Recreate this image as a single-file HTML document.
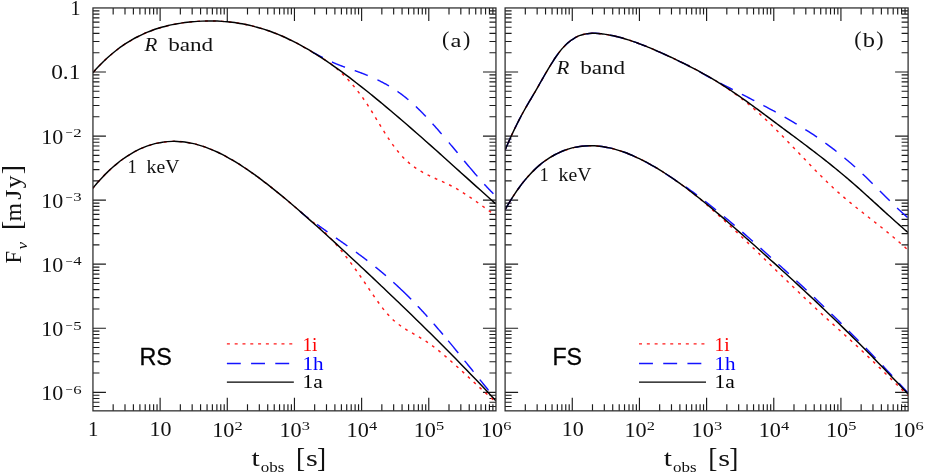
<!DOCTYPE html>
<html><head><meta charset="utf-8"><title>Light curves</title>
<style>html,body{margin:0;padding:0;background:#fff;}body{width:926px;height:475px;overflow:hidden;font-family:"Liberation Serif",serif;}svg{display:block;opacity:0.999;}</style>
</head><body>
<svg width="926" height="475" viewBox="0 0 926 475">
<rect width="926" height="475" fill="#fff"/>
<path d="M113.17,410.85L113.17,404.35M113.17,7.95L113.17,14.45M125,410.85L125,404.35M125,7.95L125,14.45M133.39,410.85L133.39,404.35M133.39,7.95L133.39,14.45M139.9,410.85L139.9,404.35M139.9,7.95L139.9,14.45M145.22,410.85L145.22,404.35M145.22,7.95L145.22,14.45M149.71,410.85L149.71,404.35M149.71,7.95L149.71,14.45M153.61,410.85L153.61,404.35M153.61,7.95L153.61,14.45M157.04,410.85L157.04,404.35M157.04,7.95L157.04,14.45M160.12,410.85L160.12,397.85M160.12,7.95L160.12,20.95M180.34,410.85L180.34,404.35M180.34,7.95L180.34,14.45M192.16,410.85L192.16,404.35M192.16,7.95L192.16,14.45M200.56,410.85L200.56,404.35M200.56,7.95L200.56,14.45M207.06,410.85L207.06,404.35M207.06,7.95L207.06,14.45M212.38,410.85L212.38,404.35M212.38,7.95L212.38,14.45M216.88,410.85L216.88,404.35M216.88,7.95L216.88,14.45M220.77,410.85L220.77,404.35M220.77,7.95L220.77,14.45M224.21,410.85L224.21,404.35M224.21,7.95L224.21,14.45M227.28,410.85L227.28,397.85M227.28,7.95L227.28,20.95M247.5,410.85L247.5,404.35M247.5,7.95L247.5,14.45M259.33,410.85L259.33,404.35M259.33,7.95L259.33,14.45M267.72,410.85L267.72,404.35M267.72,7.95L267.72,14.45M274.23,410.85L274.23,404.35M274.23,7.95L274.23,14.45M279.55,410.85L279.55,404.35M279.55,7.95L279.55,14.45M284.05,410.85L284.05,404.35M284.05,7.95L284.05,14.45M287.94,410.85L287.94,404.35M287.94,7.95L287.94,14.45M291.38,410.85L291.38,404.35M291.38,7.95L291.38,14.45M294.45,410.85L294.45,397.85M294.45,7.95L294.45,20.95M314.67,410.85L314.67,404.35M314.67,7.95L314.67,14.45M326.5,410.85L326.5,404.35M326.5,7.95L326.5,14.45M334.89,410.85L334.89,404.35M334.89,7.95L334.89,14.45M341.4,410.85L341.4,404.35M341.4,7.95L341.4,14.45M346.72,410.85L346.72,404.35M346.72,7.95L346.72,14.45M351.21,410.85L351.21,404.35M351.21,7.95L351.21,14.45M355.11,410.85L355.11,404.35M355.11,7.95L355.11,14.45M358.54,410.85L358.54,404.35M358.54,7.95L358.54,14.45M361.62,410.85L361.62,397.85M361.62,7.95L361.62,20.95M381.84,410.85L381.84,404.35M381.84,7.95L381.84,14.45M393.66,410.85L393.66,404.35M393.66,7.95L393.66,14.45M402.06,410.85L402.06,404.35M402.06,7.95L402.06,14.45M408.56,410.85L408.56,404.35M408.56,7.95L408.56,14.45M413.88,410.85L413.88,404.35M413.88,7.95L413.88,14.45M418.38,410.85L418.38,404.35M418.38,7.95L418.38,14.45M422.27,410.85L422.27,404.35M422.27,7.95L422.27,14.45M425.71,410.85L425.71,404.35M425.71,7.95L425.71,14.45M428.78,410.85L428.78,397.85M428.78,7.95L428.78,20.95M449,410.85L449,404.35M449,7.95L449,14.45M460.83,410.85L460.83,404.35M460.83,7.95L460.83,14.45M469.22,410.85L469.22,404.35M469.22,7.95L469.22,14.45M475.73,410.85L475.73,404.35M475.73,7.95L475.73,14.45M481.05,410.85L481.05,404.35M481.05,7.95L481.05,14.45M485.55,410.85L485.55,404.35M485.55,7.95L485.55,14.45M489.44,410.85L489.44,404.35M489.44,7.95L489.44,14.45M492.88,410.85L492.88,404.35M492.88,7.95L492.88,14.45M92.95,10.88L99.45,10.88M495.95,10.88L489.45,10.88M92.95,14.16L99.45,14.16M495.95,14.16L489.45,14.16M92.95,17.87L99.45,17.87M495.95,17.87L489.45,17.87M92.95,22.16L99.45,22.16M495.95,22.16L489.45,22.16M92.95,27.23L99.45,27.23M495.95,27.23L489.45,27.23M92.95,33.44L99.45,33.44M495.95,33.44L489.45,33.44M92.95,41.45L99.45,41.45M495.95,41.45L489.45,41.45M92.95,52.73L99.45,52.73M495.95,52.73L489.45,52.73M92.95,72.01L105.95,72.01M495.95,72.01L482.95,72.01M92.95,74.94L99.45,74.94M495.95,74.94L489.45,74.94M92.95,78.22L99.45,78.22M495.95,78.22L489.45,78.22M92.95,81.93L99.45,81.93M495.95,81.93L489.45,81.93M92.95,86.22L99.45,86.22M495.95,86.22L489.45,86.22M92.95,91.29L99.45,91.29M495.95,91.29L489.45,91.29M92.95,97.5L99.45,97.5M495.95,97.5L489.45,97.5M92.95,105.51L99.45,105.51M495.95,105.51L489.45,105.51M92.95,116.79L99.45,116.79M495.95,116.79L489.45,116.79M92.95,136.07L105.95,136.07M495.95,136.07L482.95,136.07M92.95,139L99.45,139M495.95,139L489.45,139M92.95,142.28L99.45,142.28M495.95,142.28L489.45,142.28M92.95,145.99L99.45,145.99M495.95,145.99L489.45,145.99M92.95,150.28L99.45,150.28M495.95,150.28L489.45,150.28M92.95,155.35L99.45,155.35M495.95,155.35L489.45,155.35M92.95,161.56L99.45,161.56M495.95,161.56L489.45,161.56M92.95,169.57L99.45,169.57M495.95,169.57L489.45,169.57M92.95,180.85L99.45,180.85M495.95,180.85L489.45,180.85M92.95,200.13L105.95,200.13M495.95,200.13L482.95,200.13M92.95,203.06L99.45,203.06M495.95,203.06L489.45,203.06M92.95,206.34L99.45,206.34M495.95,206.34L489.45,206.34M92.95,210.05L99.45,210.05M495.95,210.05L489.45,210.05M92.95,214.34L99.45,214.34M495.95,214.34L489.45,214.34M92.95,219.41L99.45,219.41M495.95,219.41L489.45,219.41M92.95,225.62L99.45,225.62M495.95,225.62L489.45,225.62M92.95,233.63L99.45,233.63M495.95,233.63L489.45,233.63M92.95,244.91L99.45,244.91M495.95,244.91L489.45,244.91M92.95,264.19L105.95,264.19M495.95,264.19L482.95,264.19M92.95,267.12L99.45,267.12M495.95,267.12L489.45,267.12M92.95,270.4L99.45,270.4M495.95,270.4L489.45,270.4M92.95,274.11L99.45,274.11M495.95,274.11L489.45,274.11M92.95,278.4L99.45,278.4M495.95,278.4L489.45,278.4M92.95,283.47L99.45,283.47M495.95,283.47L489.45,283.47M92.95,289.68L99.45,289.68M495.95,289.68L489.45,289.68M92.95,297.69L99.45,297.69M495.95,297.69L489.45,297.69M92.95,308.97L99.45,308.97M495.95,308.97L489.45,308.97M92.95,328.25L105.95,328.25M495.95,328.25L482.95,328.25M92.95,331.18L99.45,331.18M495.95,331.18L489.45,331.18M92.95,334.46L99.45,334.46M495.95,334.46L489.45,334.46M92.95,338.17L99.45,338.17M495.95,338.17L489.45,338.17M92.95,342.46L99.45,342.46M495.95,342.46L489.45,342.46M92.95,347.53L99.45,347.53M495.95,347.53L489.45,347.53M92.95,353.74L99.45,353.74M495.95,353.74L489.45,353.74M92.95,361.75L99.45,361.75M495.95,361.75L489.45,361.75M92.95,373.03L99.45,373.03M495.95,373.03L489.45,373.03M92.95,392.31L105.95,392.31M495.95,392.31L482.95,392.31M92.95,395.24L99.45,395.24M495.95,395.24L489.45,395.24M92.95,398.52L99.45,398.52M495.95,398.52L489.45,398.52M92.95,402.23L99.45,402.23M495.95,402.23L489.45,402.23M92.95,406.52L99.45,406.52M495.95,406.52L489.45,406.52" stroke="#1c1c1c" stroke-width="1.15" fill="none"/>
<path d="M525.32,410.85L525.32,404.35M525.32,7.95L525.32,14.45M537.15,410.85L537.15,404.35M537.15,7.95L537.15,14.45M545.54,410.85L545.54,404.35M545.54,7.95L545.54,14.45M552.05,410.85L552.05,404.35M552.05,7.95L552.05,14.45M557.37,410.85L557.37,404.35M557.37,7.95L557.37,14.45M561.86,410.85L561.86,404.35M561.86,7.95L561.86,14.45M565.76,410.85L565.76,404.35M565.76,7.95L565.76,14.45M569.19,410.85L569.19,404.35M569.19,7.95L569.19,14.45M572.27,410.85L572.27,397.85M572.27,7.95L572.27,20.95M592.49,410.85L592.49,404.35M592.49,7.95L592.49,14.45M604.31,410.85L604.31,404.35M604.31,7.95L604.31,14.45M612.71,410.85L612.71,404.35M612.71,7.95L612.71,14.45M619.21,410.85L619.21,404.35M619.21,7.95L619.21,14.45M624.53,410.85L624.53,404.35M624.53,7.95L624.53,14.45M629.03,410.85L629.03,404.35M629.03,7.95L629.03,14.45M632.92,410.85L632.92,404.35M632.92,7.95L632.92,14.45M636.36,410.85L636.36,404.35M636.36,7.95L636.36,14.45M639.43,410.85L639.43,397.85M639.43,7.95L639.43,20.95M659.65,410.85L659.65,404.35M659.65,7.95L659.65,14.45M671.48,410.85L671.48,404.35M671.48,7.95L671.48,14.45M679.87,410.85L679.87,404.35M679.87,7.95L679.87,14.45M686.38,410.85L686.38,404.35M686.38,7.95L686.38,14.45M691.7,410.85L691.7,404.35M691.7,7.95L691.7,14.45M696.2,410.85L696.2,404.35M696.2,7.95L696.2,14.45M700.09,410.85L700.09,404.35M700.09,7.95L700.09,14.45M703.53,410.85L703.53,404.35M703.53,7.95L703.53,14.45M706.6,410.85L706.6,397.85M706.6,7.95L706.6,20.95M726.82,410.85L726.82,404.35M726.82,7.95L726.82,14.45M738.65,410.85L738.65,404.35M738.65,7.95L738.65,14.45M747.04,410.85L747.04,404.35M747.04,7.95L747.04,14.45M753.55,410.85L753.55,404.35M753.55,7.95L753.55,14.45M758.87,410.85L758.87,404.35M758.87,7.95L758.87,14.45M763.36,410.85L763.36,404.35M763.36,7.95L763.36,14.45M767.26,410.85L767.26,404.35M767.26,7.95L767.26,14.45M770.69,410.85L770.69,404.35M770.69,7.95L770.69,14.45M773.77,410.85L773.77,397.85M773.77,7.95L773.77,20.95M793.99,410.85L793.99,404.35M793.99,7.95L793.99,14.45M805.81,410.85L805.81,404.35M805.81,7.95L805.81,14.45M814.21,410.85L814.21,404.35M814.21,7.95L814.21,14.45M820.71,410.85L820.71,404.35M820.71,7.95L820.71,14.45M826.03,410.85L826.03,404.35M826.03,7.95L826.03,14.45M830.53,410.85L830.53,404.35M830.53,7.95L830.53,14.45M834.42,410.85L834.42,404.35M834.42,7.95L834.42,14.45M837.86,410.85L837.86,404.35M837.86,7.95L837.86,14.45M840.93,410.85L840.93,397.85M840.93,7.95L840.93,20.95M861.15,410.85L861.15,404.35M861.15,7.95L861.15,14.45M872.98,410.85L872.98,404.35M872.98,7.95L872.98,14.45M881.37,410.85L881.37,404.35M881.37,7.95L881.37,14.45M887.88,410.85L887.88,404.35M887.88,7.95L887.88,14.45M893.2,410.85L893.2,404.35M893.2,7.95L893.2,14.45M897.7,410.85L897.7,404.35M897.7,7.95L897.7,14.45M901.59,410.85L901.59,404.35M901.59,7.95L901.59,14.45M905.03,410.85L905.03,404.35M905.03,7.95L905.03,14.45M505.1,10.88L511.6,10.88M908.1,10.88L901.6,10.88M505.1,14.16L511.6,14.16M908.1,14.16L901.6,14.16M505.1,17.87L511.6,17.87M908.1,17.87L901.6,17.87M505.1,22.16L511.6,22.16M908.1,22.16L901.6,22.16M505.1,27.23L511.6,27.23M908.1,27.23L901.6,27.23M505.1,33.44L511.6,33.44M908.1,33.44L901.6,33.44M505.1,41.45L511.6,41.45M908.1,41.45L901.6,41.45M505.1,52.73L511.6,52.73M908.1,52.73L901.6,52.73M505.1,72.01L518.1,72.01M908.1,72.01L895.1,72.01M505.1,74.94L511.6,74.94M908.1,74.94L901.6,74.94M505.1,78.22L511.6,78.22M908.1,78.22L901.6,78.22M505.1,81.93L511.6,81.93M908.1,81.93L901.6,81.93M505.1,86.22L511.6,86.22M908.1,86.22L901.6,86.22M505.1,91.29L511.6,91.29M908.1,91.29L901.6,91.29M505.1,97.5L511.6,97.5M908.1,97.5L901.6,97.5M505.1,105.51L511.6,105.51M908.1,105.51L901.6,105.51M505.1,116.79L511.6,116.79M908.1,116.79L901.6,116.79M505.1,136.07L518.1,136.07M908.1,136.07L895.1,136.07M505.1,139L511.6,139M908.1,139L901.6,139M505.1,142.28L511.6,142.28M908.1,142.28L901.6,142.28M505.1,145.99L511.6,145.99M908.1,145.99L901.6,145.99M505.1,150.28L511.6,150.28M908.1,150.28L901.6,150.28M505.1,155.35L511.6,155.35M908.1,155.35L901.6,155.35M505.1,161.56L511.6,161.56M908.1,161.56L901.6,161.56M505.1,169.57L511.6,169.57M908.1,169.57L901.6,169.57M505.1,180.85L511.6,180.85M908.1,180.85L901.6,180.85M505.1,200.13L518.1,200.13M908.1,200.13L895.1,200.13M505.1,203.06L511.6,203.06M908.1,203.06L901.6,203.06M505.1,206.34L511.6,206.34M908.1,206.34L901.6,206.34M505.1,210.05L511.6,210.05M908.1,210.05L901.6,210.05M505.1,214.34L511.6,214.34M908.1,214.34L901.6,214.34M505.1,219.41L511.6,219.41M908.1,219.41L901.6,219.41M505.1,225.62L511.6,225.62M908.1,225.62L901.6,225.62M505.1,233.63L511.6,233.63M908.1,233.63L901.6,233.63M505.1,244.91L511.6,244.91M908.1,244.91L901.6,244.91M505.1,264.19L518.1,264.19M908.1,264.19L895.1,264.19M505.1,267.12L511.6,267.12M908.1,267.12L901.6,267.12M505.1,270.4L511.6,270.4M908.1,270.4L901.6,270.4M505.1,274.11L511.6,274.11M908.1,274.11L901.6,274.11M505.1,278.4L511.6,278.4M908.1,278.4L901.6,278.4M505.1,283.47L511.6,283.47M908.1,283.47L901.6,283.47M505.1,289.68L511.6,289.68M908.1,289.68L901.6,289.68M505.1,297.69L511.6,297.69M908.1,297.69L901.6,297.69M505.1,308.97L511.6,308.97M908.1,308.97L901.6,308.97M505.1,328.25L518.1,328.25M908.1,328.25L895.1,328.25M505.1,331.18L511.6,331.18M908.1,331.18L901.6,331.18M505.1,334.46L511.6,334.46M908.1,334.46L901.6,334.46M505.1,338.17L511.6,338.17M908.1,338.17L901.6,338.17M505.1,342.46L511.6,342.46M908.1,342.46L901.6,342.46M505.1,347.53L511.6,347.53M908.1,347.53L901.6,347.53M505.1,353.74L511.6,353.74M908.1,353.74L901.6,353.74M505.1,361.75L511.6,361.75M908.1,361.75L901.6,361.75M505.1,373.03L511.6,373.03M908.1,373.03L901.6,373.03M505.1,392.31L518.1,392.31M908.1,392.31L895.1,392.31M505.1,395.24L511.6,395.24M908.1,395.24L901.6,395.24M505.1,398.52L511.6,398.52M908.1,398.52L901.6,398.52M505.1,402.23L511.6,402.23M908.1,402.23L901.6,402.23M505.1,406.52L511.6,406.52M908.1,406.52L901.6,406.52" stroke="#1c1c1c" stroke-width="1.15" fill="none"/>
<g clip-path="url(#cp)">
<defs><clipPath id="cp"><rect x="92.95" y="7.95" width="403" height="402.9"/><rect x="505.1" y="7.95" width="403" height="402.9"/></clipPath></defs>
<path d="M92.8,72.79 C93.63,71.87 96.12,69.04 97.78,67.28 C99.43,65.51 101.09,63.82 102.75,62.19 C104.41,60.56 106.07,59.01 107.73,57.51 C109.38,56.01 111.04,54.58 112.7,53.21 C114.36,51.84 116.02,50.53 117.68,49.27 C119.33,48.02 120.99,46.83 122.65,45.68 C124.31,44.54 125.97,43.45 127.63,42.41 C129.29,41.38 130.94,40.39 132.6,39.45 C134.26,38.51 135.92,37.62 137.58,36.77 C139.24,35.92 140.89,35.12 142.55,34.35 C144.21,33.59 145.87,32.87 147.53,32.19 C149.19,31.5 150.85,30.86 152.5,30.26 C154.16,29.65 155.82,29.08 157.48,28.55 C159.14,28.01 160.8,27.51 162.45,27.05 C164.11,26.58 165.77,26.15 167.43,25.75 C169.09,25.34 170.75,24.97 172.4,24.63 C174.06,24.28 175.72,23.97 177.38,23.68 C179.04,23.39 180.7,23.13 182.36,22.89 C184.01,22.66 185.67,22.44 187.33,22.25 C188.99,22.06 190.65,21.89 192.31,21.74 C193.96,21.59 195.62,21.47 197.28,21.36 C198.94,21.25 200.6,21.16 202.26,21.1 C203.92,21.03 205.57,20.99 207.23,20.97 C208.89,20.94 210.55,20.94 212.21,20.96 C213.87,20.98 215.52,21.03 217.18,21.09 C218.84,21.16 220.5,21.25 222.16,21.36 C223.82,21.47 225.47,21.6 227.13,21.76 C228.79,21.92 230.45,22.1 232.11,22.3 C233.77,22.5 235.43,22.73 237.08,22.98 C238.74,23.24 240.4,23.51 242.06,23.81 C243.72,24.12 245.38,24.44 247.03,24.79 C248.69,25.14 250.35,25.52 252.01,25.92 C253.67,26.32 255.33,26.75 256.99,27.2 C258.64,27.65 260.3,28.13 261.96,28.64 C263.62,29.14 265.28,29.67 266.94,30.23 C268.59,30.79 270.25,31.38 271.91,31.99 C273.57,32.6 275.23,33.24 276.89,33.91 C278.54,34.57 280.2,35.27 281.86,35.99 C283.52,36.71 285.18,37.46 286.84,38.23 C288.5,39.01 290.15,39.81 291.81,40.63 C293.47,41.46 295.13,42.31 296.79,43.18 C298.45,44.05 300.1,44.95 301.76,45.87 C303.42,46.79 305.08,47.73 306.74,48.69 C308.4,49.66 310.06,50.64 311.71,51.65 C313.37,52.65 315.03,53.69 316.69,54.72 C318.35,55.76 320.01,56.84 321.66,57.85 C323.32,58.87 324.98,59.76 326.64,60.83 C328.3,61.9 329.96,63.02 331.61,64.29 C333.27,65.56 334.93,66.99 336.59,68.45 C338.25,69.92 339.91,71.47 341.57,73.07 C343.22,74.68 344.88,76.35 346.54,78.09 C348.2,79.84 349.86,81.65 351.52,83.56 C353.17,85.47 354.83,87.45 356.49,89.53 C358.15,91.61 359.81,93.77 361.47,96.04 C363.13,98.32 364.78,100.69 366.44,103.16 C368.1,105.64 369.76,108.26 371.42,110.9 C373.08,113.54 374.73,116.3 376.39,119.02 C378.05,121.74 379.71,124.52 381.37,127.21 C383.03,129.91 384.68,132.6 386.34,135.17 C388,137.74 389.66,140.25 391.32,142.62 C392.98,144.99 394.64,147.27 396.29,149.39 C397.95,151.5 399.61,153.49 401.27,155.32 C402.93,157.16 404.59,158.83 406.24,160.39 C407.9,161.96 409.56,163.37 411.22,164.7 C412.88,166.02 414.54,167.22 416.2,168.35 C417.85,169.48 419.51,170.5 421.17,171.48 C422.83,172.45 424.49,173.34 426.15,174.19 C427.8,175.05 429.46,175.84 431.12,176.61 C432.78,177.39 434.44,178.12 436.1,178.86 C437.75,179.6 439.41,180.31 441.07,181.05 C442.73,181.79 444.39,182.52 446.05,183.3 C447.71,184.08 449.36,184.88 451.02,185.73 C452.68,186.59 454.34,187.49 456,188.43 C457.66,189.37 459.31,190.36 460.97,191.38 C462.63,192.4 464.29,193.46 465.95,194.55 C467.61,195.63 469.27,196.75 470.92,197.88 C472.58,199.02 474.24,200.18 475.9,201.35 C477.56,202.52 479.22,203.72 480.87,204.91 C482.53,206.11 484.19,207.32 485.85,208.52 C487.51,209.73 489.17,210.94 490.82,212.14 C492.48,213.34 494.97,215.13 495.8,215.73" fill="none" stroke="#ff1a1a" stroke-width="1.45" stroke-dasharray="2.8 5.1" stroke-dashoffset="-1.3"/>
<path d="M92.8,188.2 C93.63,187.22 96.12,184.22 97.78,182.33 C99.43,180.45 101.09,178.64 102.75,176.9 C104.41,175.15 106.07,173.48 107.73,171.88 C109.38,170.27 111.04,168.74 112.7,167.27 C114.36,165.81 116.02,164.41 117.68,163.07 C119.33,161.74 120.99,160.47 122.65,159.27 C124.31,158.06 125.97,156.93 127.63,155.85 C129.29,154.78 130.94,153.77 132.6,152.82 C134.26,151.87 135.92,150.99 137.58,150.16 C139.24,149.33 140.89,148.57 142.55,147.87 C144.21,147.16 145.87,146.52 147.53,145.93 C149.19,145.34 150.85,144.82 152.5,144.35 C154.16,143.87 155.82,143.46 157.48,143.1 C159.14,142.75 160.8,142.44 162.45,142.2 C164.11,141.95 165.77,141.76 167.43,141.62 C169.09,141.48 170.75,141.39 172.4,141.36 C174.06,141.32 175.72,141.34 177.38,141.41 C179.04,141.48 180.7,141.6 182.36,141.77 C184.01,141.94 185.67,142.16 187.33,142.42 C188.99,142.69 190.65,143 192.31,143.36 C193.96,143.72 195.62,144.13 197.28,144.59 C198.94,145.04 200.6,145.54 202.26,146.08 C203.92,146.62 205.57,147.2 207.23,147.82 C208.89,148.44 210.55,149.11 212.21,149.81 C213.87,150.51 215.52,151.25 217.18,152.02 C218.84,152.8 220.5,153.61 222.16,154.46 C223.82,155.3 225.47,156.18 227.13,157.09 C228.79,158 230.45,158.94 232.11,159.91 C233.77,160.88 235.43,161.88 237.08,162.91 C238.74,163.94 240.4,164.99 242.06,166.07 C243.72,167.15 245.38,168.26 247.03,169.39 C248.69,170.52 250.35,171.67 252.01,172.84 C253.67,174.01 255.33,175.2 256.99,176.42 C258.64,177.63 260.3,178.86 261.96,180.11 C263.62,181.36 265.28,182.63 266.94,183.92 C268.59,185.2 270.25,186.5 271.91,187.82 C273.57,189.14 275.23,190.47 276.89,191.82 C278.54,193.16 280.2,194.52 281.86,195.9 C283.52,197.27 285.18,198.65 286.84,200.05 C288.5,201.44 290.15,202.85 291.81,204.27 C293.47,205.68 295.13,207.11 296.79,208.54 C298.45,209.98 300.1,211.43 301.76,212.87 C303.42,214.31 305.08,215.77 306.74,217.17 C308.4,218.56 310.06,219.91 311.71,221.24 C313.37,222.58 315.03,223.79 316.69,225.17 C318.35,226.56 320.01,228.03 321.66,229.55 C323.32,231.07 324.98,232.65 326.64,234.3 C328.3,235.95 329.96,237.68 331.61,239.48 C333.27,241.27 334.93,243.14 336.59,245.06 C338.25,246.98 339.91,248.97 341.57,251.01 C343.22,253.05 344.88,255.15 346.54,257.3 C348.2,259.44 349.86,261.64 351.52,263.89 C353.17,266.13 354.83,268.42 356.49,270.75 C358.15,273.07 359.81,275.44 361.47,277.84 C363.13,280.24 364.78,282.69 366.44,285.13 C368.1,287.57 369.76,290.05 371.42,292.47 C373.08,294.89 374.73,297.31 376.39,299.64 C378.05,301.97 379.71,304.28 381.37,306.45 C383.03,308.62 384.68,310.72 386.34,312.66 C388,314.6 389.66,316.42 391.32,318.08 C392.98,319.73 394.64,321.2 396.29,322.57 C397.95,323.95 399.61,325.16 401.27,326.33 C402.93,327.49 404.59,328.53 406.24,329.56 C407.9,330.58 409.56,331.52 411.22,332.48 C412.88,333.45 414.54,334.37 416.2,335.33 C417.85,336.29 419.51,337.25 421.17,338.26 C422.83,339.27 424.49,340.31 426.15,341.41 C427.8,342.52 429.46,343.68 431.12,344.88 C432.78,346.09 434.44,347.35 436.1,348.64 C437.75,349.94 439.41,351.28 441.07,352.65 C442.73,354.02 444.39,355.43 446.05,356.86 C447.71,358.28 449.36,359.74 451.02,361.21 C452.68,362.68 454.34,364.17 456,365.67 C457.66,367.17 459.31,368.69 460.97,370.21 C462.63,371.73 464.29,373.27 465.95,374.8 C467.61,376.34 469.27,377.88 470.92,379.42 C472.58,380.95 474.24,382.5 475.9,384.03 C477.56,385.56 479.22,387.09 480.87,388.61 C482.53,390.13 484.19,391.64 485.85,393.14 C487.51,394.64 489.17,396.12 490.82,397.59 C492.48,399.05 494.97,401.2 495.8,401.93" fill="none" stroke="#ff1a1a" stroke-width="1.45" stroke-dasharray="2.8 5.1" stroke-dashoffset="0"/>
<path d="M505,150.19 C505.5,149.03 507,145.51 508.01,143.23 C509.01,140.96 510.01,138.72 511.01,136.54 C512.02,134.35 513.02,132.21 514.02,130.11 C515.02,128.01 516.03,125.96 517.03,123.96 C518.03,121.95 519.03,120 520.04,118.08 C521.04,116.17 522.04,114.31 523.04,112.48 C524.05,110.65 525.05,108.87 526.05,107.12 C527.05,105.37 528.06,103.66 529.06,101.96 C530.06,100.25 531.06,98.58 532.07,96.88 C533.07,95.18 534.07,93.48 535.07,91.76 C536.08,90.03 537.08,88.28 538.08,86.53 C539.08,84.78 540.09,83.01 541.09,81.25 C542.09,79.5 543.09,77.73 544.1,76 C545.1,74.26 546.1,72.53 547.1,70.83 C548.11,69.13 549.11,67.45 550.11,65.82 C551.11,64.18 552.12,62.57 553.12,61.02 C554.12,59.47 555.12,57.96 556.13,56.52 C557.13,55.08 558.13,53.68 559.13,52.37 C560.14,51.06 561.14,49.81 562.14,48.64 C563.14,47.48 564.15,46.4 565.15,45.39 C566.15,44.38 567.15,43.46 568.16,42.6 C569.16,41.74 570.16,40.96 571.16,40.24 C572.17,39.52 573.17,38.87 574.17,38.28 C575.17,37.69 576.18,37.16 577.18,36.69 C578.18,36.21 579.18,35.8 580.19,35.44 C581.19,35.07 582.19,34.77 583.19,34.5 C584.2,34.24 585.2,34.02 586.2,33.85 C587.2,33.67 588.21,33.54 589.21,33.44 C590.21,33.34 591.21,33.29 592.22,33.26 C593.22,33.23 594.22,33.24 595.22,33.26 C596.23,33.29 597.23,33.36 598.23,33.43 C599.23,33.51 600.24,33.62 601.24,33.74 C602.24,33.85 603.24,33.99 604.25,34.14 C605.25,34.28 606.25,34.45 607.25,34.62 C608.26,34.79 609.26,34.98 610.26,35.17 C611.26,35.37 612.27,35.58 613.27,35.8 C614.27,36.02 615.27,36.25 616.28,36.49 C617.28,36.73 618.28,36.99 619.28,37.25 C620.29,37.51 621.29,37.79 622.29,38.07 C623.29,38.35 624.3,38.64 625.3,38.94 C626.3,39.25 627.3,39.56 628.31,39.88 C629.31,40.2 630.31,40.52 631.31,40.86 C632.32,41.2 633.32,41.54 634.32,41.89 C635.32,42.24 636.33,42.6 637.33,42.97 C638.33,43.34 639.33,43.71 640.34,44.09 C641.34,44.47 642.34,44.86 643.34,45.25 C644.35,45.65 645.35,46.05 646.35,46.45 C647.35,46.86 648.36,47.27 649.36,47.68 C650.36,48.1 651.36,48.52 652.37,48.94 C653.37,49.37 654.37,49.8 655.37,50.23 C656.38,50.67 657.38,51.11 658.38,51.55 C659.38,51.99 660.39,52.43 661.39,52.88 C662.39,53.33 663.39,53.78 664.4,54.24 C665.4,54.69 666.4,55.15 667.4,55.61 C668.41,56.07 669.41,56.53 670.41,56.99 C671.41,57.46 672.42,57.93 673.42,58.4 C674.42,58.87 675.42,59.35 676.43,59.83 C677.43,60.31 678.43,60.79 679.43,61.28 C680.44,61.76 681.44,62.26 682.44,62.75 C683.44,63.24 684.45,63.74 685.45,64.24 C686.45,64.75 687.45,65.25 688.46,65.76 C689.46,66.28 690.46,66.79 691.46,67.31 C692.47,67.83 693.47,68.35 694.47,68.88 C695.47,69.41 696.48,69.94 697.48,70.48 C698.48,71.02 699.48,71.56 700.49,72.11 C701.49,72.66 702.49,73.21 703.49,73.77 C704.5,74.33 705.5,74.89 706.5,75.46 C707.5,76.03 708.5,76.61 709.51,77.19 C710.51,77.77 711.51,78.35 712.51,78.95 C713.52,79.54 714.52,80.14 715.52,80.75 C716.52,81.37 717.53,81.99 718.53,82.62 C719.53,83.25 720.53,83.89 721.54,84.54 C722.54,85.19 723.54,85.85 724.54,86.52 C725.55,87.19 726.55,87.88 727.55,88.57 C728.55,89.25 729.56,89.94 730.56,90.63 C731.56,91.33 732.56,92.03 733.57,92.75 C734.57,93.46 735.57,94.19 736.57,94.92 C737.58,95.66 738.58,96.41 739.58,97.17 C740.58,97.92 741.59,98.69 742.59,99.48 C743.59,100.26 744.59,101.05 745.6,101.86 C746.6,102.67 747.6,103.48 748.6,104.31 C749.61,105.14 750.61,105.98 751.61,106.83 C752.61,107.69 753.62,108.55 754.62,109.42 C755.62,110.29 756.62,111.18 757.63,112.07 C758.63,112.97 759.63,113.87 760.63,114.78 C761.64,115.7 762.64,116.62 763.64,117.55 C764.64,118.49 765.65,119.43 766.65,120.38 C767.65,121.33 768.65,122.29 769.66,123.26 C770.66,124.23 771.66,125.21 772.66,126.19 C773.67,127.18 774.67,128.17 775.67,129.17 C776.67,130.17 777.68,131.18 778.68,132.19 C779.68,133.2 780.68,134.22 781.69,135.25 C782.69,136.27 783.69,137.3 784.69,138.34 C785.7,139.37 786.7,140.41 787.7,141.45 C788.7,142.49 789.71,143.54 790.71,144.59 C791.71,145.63 792.71,146.68 793.72,147.74 C794.72,148.79 795.72,149.84 796.72,150.89 C797.73,151.95 798.73,153 799.73,154.05 C800.73,155.11 801.74,156.16 802.74,157.21 C803.74,158.26 804.74,159.31 805.75,160.36 C806.75,161.41 807.75,162.45 808.75,163.5 C809.76,164.54 810.76,165.58 811.76,166.61 C812.76,167.65 813.77,168.68 814.77,169.7 C815.77,170.73 816.77,171.75 817.78,172.76 C818.78,173.78 819.78,174.79 820.78,175.79 C821.79,176.79 822.79,177.78 823.79,178.77 C824.79,179.76 825.8,180.74 826.8,181.71 C827.8,182.68 828.8,183.64 829.81,184.59 C830.81,185.54 831.81,186.48 832.81,187.41 C833.82,188.34 834.82,189.26 835.82,190.17 C836.82,191.08 837.83,191.98 838.83,192.86 C839.83,193.75 840.83,194.63 841.84,195.5 C842.84,196.37 843.84,197.23 844.84,198.08 C845.85,198.94 846.85,199.78 847.85,200.62 C848.85,201.46 849.86,202.29 850.86,203.11 C851.86,203.94 852.86,204.76 853.87,205.57 C854.87,206.39 855.87,207.19 856.87,208 C857.88,208.8 858.88,209.6 859.88,210.4 C860.88,211.2 861.89,211.99 862.89,212.78 C863.89,213.58 864.89,214.37 865.9,215.15 C866.9,215.94 867.9,216.73 868.9,217.52 C869.91,218.3 870.91,219.09 871.91,219.88 C872.91,220.66 873.92,221.45 874.92,222.24 C875.92,223.03 876.92,223.82 877.93,224.61 C878.93,225.4 879.93,226.2 880.93,226.99 C881.94,227.79 882.94,228.59 883.94,229.4 C884.94,230.21 885.95,231.02 886.95,231.83 C887.95,232.65 888.95,233.47 889.96,234.3 C890.96,235.12 891.96,235.96 892.96,236.8 C893.97,237.64 894.97,238.48 895.97,239.34 C896.97,240.19 897.98,241.06 898.98,241.93 C899.98,242.8 900.98,243.68 901.99,244.57 C902.99,245.47 903.99,246.37 904.99,247.28 C906,248.19 907.5,249.59 908,250.05" fill="none" stroke="#ff1a1a" stroke-width="1.45" stroke-dasharray="2.8 5.1" stroke-dashoffset="0"/>
<path d="M505,210.01 C505.83,208.58 508.32,204.15 509.98,201.41 C511.63,198.68 513.29,196.08 514.95,193.6 C516.61,191.11 518.27,188.76 519.93,186.52 C521.58,184.28 523.24,182.17 524.9,180.15 C526.56,178.14 528.22,176.25 529.88,174.46 C531.53,172.66 533.19,170.98 534.85,169.39 C536.51,167.81 538.17,166.32 539.83,164.93 C541.49,163.54 543.14,162.24 544.8,161.03 C546.46,159.81 548.12,158.69 549.78,157.65 C551.44,156.6 553.09,155.65 554.75,154.76 C556.41,153.87 558.07,153.07 559.73,152.32 C561.39,151.58 563.05,150.91 564.7,150.3 C566.36,149.7 568.02,149.15 569.68,148.67 C571.34,148.19 573,147.77 574.65,147.41 C576.31,147.05 577.97,146.76 579.63,146.52 C581.29,146.27 582.95,146.09 584.6,145.96 C586.26,145.83 587.92,145.76 589.58,145.74 C591.24,145.72 592.9,145.75 594.56,145.83 C596.21,145.92 597.87,146.05 599.53,146.23 C601.19,146.41 602.85,146.64 604.51,146.92 C606.16,147.2 607.82,147.52 609.48,147.88 C611.14,148.25 612.8,148.66 614.46,149.11 C616.12,149.56 617.77,150.05 619.43,150.58 C621.09,151.11 622.75,151.68 624.41,152.29 C626.07,152.89 627.72,153.54 629.38,154.21 C631.04,154.89 632.7,155.6 634.36,156.35 C636.02,157.09 637.67,157.86 639.33,158.67 C640.99,159.47 642.65,160.31 644.31,161.17 C645.97,162.03 647.63,162.92 649.28,163.84 C650.94,164.76 652.6,165.7 654.26,166.67 C655.92,167.63 657.58,168.63 659.23,169.64 C660.89,170.66 662.55,171.7 664.21,172.76 C665.87,173.83 667.53,174.91 669.19,176.02 C670.84,177.13 672.5,178.26 674.16,179.41 C675.82,180.55 677.48,181.72 679.14,182.91 C680.79,184.1 682.45,185.31 684.11,186.53 C685.77,187.75 687.43,189 689.09,190.25 C690.74,191.51 692.4,192.77 694.06,194.08 C695.72,195.38 697.38,196.7 699.04,198.07 C700.7,199.45 702.35,200.86 704.01,202.32 C705.67,203.77 707.33,205.31 708.99,206.79 C710.65,208.27 712.3,209.74 713.96,211.22 C715.62,212.69 717.28,214.17 718.94,215.67 C720.6,217.16 722.26,218.67 723.91,220.19 C725.57,221.71 727.23,223.24 728.89,224.78 C730.55,226.32 732.21,227.88 733.86,229.43 C735.52,230.99 737.18,232.56 738.84,234.14 C740.5,235.71 742.16,237.3 743.81,238.89 C745.47,240.48 747.13,242.08 748.79,243.68 C750.45,245.28 752.11,246.88 753.77,248.49 C755.42,250.1 757.08,251.72 758.74,253.34 C760.4,254.95 762.06,256.57 763.72,258.2 C765.37,259.82 767.03,261.44 768.69,263.06 C770.35,264.69 772.01,266.31 773.67,267.93 C775.33,269.56 776.98,271.18 778.64,272.8 C780.3,274.42 781.96,276.04 783.62,277.65 C785.28,279.27 786.93,280.88 788.59,282.49 C790.25,284.1 791.91,285.7 793.57,287.3 C795.23,288.9 796.88,290.5 798.54,292.09 C800.2,293.68 801.86,295.27 803.52,296.85 C805.18,298.43 806.84,300.01 808.49,301.58 C810.15,303.15 811.81,304.71 813.47,306.27 C815.13,307.83 816.79,309.38 818.44,310.92 C820.1,312.46 821.76,314 823.42,315.53 C825.08,317.06 826.74,318.58 828.4,320.09 C830.05,321.61 831.71,323.11 833.37,324.62 C835.03,326.13 836.69,327.63 838.35,329.13 C840,330.64 841.66,332.14 843.32,333.65 C844.98,335.15 846.64,336.66 848.3,338.17 C849.95,339.69 851.61,341.21 853.27,342.74 C854.93,344.26 856.59,345.8 858.25,347.35 C859.91,348.89 861.56,350.45 863.22,352.02 C864.88,353.58 866.54,355.16 868.2,356.74 C869.86,358.32 871.51,359.91 873.17,361.51 C874.83,363.1 876.49,364.7 878.15,366.31 C879.81,367.92 881.47,369.53 883.12,371.15 C884.78,372.76 886.44,374.38 888.1,376 C889.76,377.63 891.42,379.25 893.07,380.88 C894.73,382.5 896.39,384.13 898.05,385.76 C899.71,387.38 901.37,389.01 903.02,390.64 C904.68,392.26 907.17,394.7 908,395.51" fill="none" stroke="#ff1a1a" stroke-width="1.45" stroke-dasharray="2.8 5.1" stroke-dashoffset="0"/>
<path d="M312.6,52.1L312.96,52.31L313.37,52.54L313.79,52.78L314.2,53.01L314.62,53.25L315.03,53.48L315.45,53.71L315.86,53.94L316.27,54.16L316.69,54.39L317.1,54.61L317.52,54.83L317.93,55.05L318.35,55.27L318.76,55.49L319.18,55.7L319.59,55.91L320.01,56.13L320.42,56.34L320.83,56.55L321.25,56.76L321.66,56.97L322.08,57.17L322.49,57.38L322.91,57.59L323,57.63M332,62.02L332.03,62.03L332.44,62.22L332.86,62.41L333.27,62.59L333.69,62.77L334.1,62.96L334.52,63.14L334.93,63.32L335.35,63.49L335.76,63.67L336.18,63.84L336.59,64.01L337,64.18L337.42,64.35L337.83,64.52L338.25,64.69L338.66,64.85L339.08,65.01L339.49,65.17L339.91,65.33L340.32,65.49L340.74,65.65L341.15,65.8L341.57,65.96L341.98,66.12L342.39,66.27L342.81,66.42L343.22,66.57L343.64,66.72L344.05,66.87L344.47,67.02L344.88,67.17L345,67.21M354.7,70.6L354.83,70.64L355.25,70.79L355.66,70.93L356.08,71.08L356.49,71.23L356.91,71.38L357.32,71.53L357.74,71.68L358.15,71.83L358.56,71.98L358.98,72.13L359.39,72.28L359.81,72.43L360.22,72.59L360.64,72.74L361.05,72.89L361.47,73.05L361.88,73.21L362.3,73.37L362.71,73.52L363.13,73.68L363.54,73.84L363.95,74L364.37,74.16L364.78,74.33L365.2,74.49L365.61,74.65L366.03,74.82L366.44,74.99L366.86,75.15L367.27,75.32L367.69,75.49L367.7,75.5M377.4,79.8L377.64,79.91L378.05,80.11L378.47,80.31L378.88,80.51L379.29,80.72L379.71,80.92L380.12,81.13L380.54,81.34L380.95,81.55L381.37,81.77L381.78,81.98L382.2,82.2L382.61,82.41L383.03,82.63L383.44,82.85L383.86,83.07L384.27,83.3L384.68,83.52L385.1,83.75L385.51,83.98L385.93,84.21L386.34,84.44L386.76,84.68L387.17,84.92L387.59,85.15L388,85.39L388.42,85.63L388.83,85.88L389,85.98M397.5,91.43L397.54,91.45L397.95,91.74L398.37,92.03L398.78,92.33L399.2,92.62L399.61,92.92L400.03,93.22L400.44,93.52L400.85,93.83L401.27,94.14L401.68,94.45L402.1,94.76L402.51,95.07L402.93,95.39L403.34,95.71L403.76,96.03L404.17,96.36L404.59,96.68L405,97.01L405.42,97.34L405.83,97.68L406.24,98.01L406.66,98.35L407.07,98.7L407.49,99.04L407.9,99.39L408.32,99.74L408.4,99.81M415.9,106.54L416.2,106.82L416.61,107.21L417.02,107.61L417.44,108.01L417.85,108.41L418.27,108.81L418.68,109.21L419.1,109.62L419.51,110.03L419.93,110.44L420.34,110.85L420.76,111.27L421.17,111.68L421.58,112.1L422,112.52L422.41,112.94L422.83,113.36L423.24,113.79L423.66,114.21L424.07,114.64L424.49,115.07L424.9,115.5L425.32,115.93L425.73,116.37L425.8,116.44M432.6,123.78L432.78,123.98L433.19,124.44L433.61,124.9L434.02,125.36L434.44,125.83L434.85,126.29L435.27,126.76L435.68,127.22L436.1,127.69L436.51,128.16L436.93,128.63L437.34,129.1L437.75,129.57L438.17,130.05L438.58,130.52L439,131L439.41,131.47L439.83,131.95L440.24,132.43L440.66,132.91L441.07,133.39L441.49,133.87L441.6,134M448.9,142.58L448.95,142.64L449.36,143.13L449.78,143.62L450.19,144.11L450.61,144.61L451.02,145.1L451.44,145.6L451.85,146.09L452.27,146.59L452.68,147.08L453.1,147.58L453.51,148.07L453.92,148.57L454.34,149.07L454.75,149.56L455.17,150.06L455.58,150.56L456,151.05L456.41,151.55L456.83,152.05L457.24,152.54L457.5,152.85M464.2,160.88L464.29,160.99L464.7,161.48L465.12,161.98L465.53,162.47L465.95,162.96L466.36,163.46L466.78,163.95L467.19,164.44L467.61,164.93L468.02,165.43L468.44,165.92L468.85,166.41L469.27,166.9L469.68,167.39L470.09,167.88L470.51,168.37L470.92,168.85L471.34,169.34L471.75,169.83L472.17,170.31L472.58,170.8L473,171.28L473.41,171.77L473.83,172.25L474.24,172.73L474.65,173.22L475.07,173.7L475.48,174.18L475.9,174.65L476.31,175.13L476.73,175.61L477.14,176.09L477.4,176.38M484.3,184.15L484.61,184.48L485.02,184.94L485.43,185.39L485.85,185.84L486.26,186.3L486.68,186.74L487.09,187.19L487.51,187.64L487.92,188.09L488.34,188.53L488.75,188.97L489.17,189.41L489.58,189.85L490,190.29L490.41,190.73L490.82,191.16L491.26,191.61L491.71,192.08L492.19,192.57L492.67,193.07L493.15,193.56L493.4,193.81" fill="none" stroke="#1414ff" stroke-width="1.45"/>
<path d="M300,211.35L300.1,211.44L300.52,211.8L300.93,212.16L301.35,212.51L301.76,212.87L302.18,213.22L302.59,213.58L303.01,213.93L303.42,214.28L303.84,214.63L304.25,214.98L304.67,215.33L305.08,215.68L305.49,216.02L305.91,216.36L306.32,216.7L306.74,217.03L307.15,217.36L307.57,217.69L307.98,218.02L308.4,218.34L308.5,218.42M317.1,224.42L317.1,224.42L317.52,224.72L317.93,225.01L318.35,225.32L318.76,225.62L319.18,225.92L319.59,226.23L320.01,226.53L320.42,226.84L320.83,227.15L321.25,227.45L321.66,227.75L322.08,228.05L322.49,228.35L322.91,228.65L323.32,228.95L323.74,229.25L324.15,229.55L324.57,229.85L324.98,230.15L325.4,230.45L325.81,230.74L326.22,231.04L326.64,231.34L327.05,231.63L327.47,231.93L327.5,231.95M336,237.95L336.18,238.08L336.59,238.37L337,238.66L337.42,238.95L337.83,239.24L338.25,239.53L338.66,239.82L339.08,240.11L339.49,240.4L339.91,240.69L340.32,240.98L340.74,241.28L341.15,241.57L341.57,241.86L341.98,242.15L342.39,242.44L342.81,242.73L343.22,243.02L343.64,243.31L344.05,243.6L344.47,243.9L344.88,244.19L345.3,244.48L345.71,244.77L346.13,245.06L346.54,245.36L346.96,245.65L347.37,245.94L347.4,245.96M355.9,252.05L356.08,252.18L356.49,252.48L356.91,252.78L357.32,253.08L357.74,253.39L358.15,253.69L358.56,254L358.98,254.3L359.39,254.61L359.81,254.91L360.22,255.22L360.64,255.53L361.05,255.84L361.47,256.15L361.88,256.46L362.3,256.77L362.71,257.08L363.13,257.39L363.54,257.7L363.95,258.01L364.37,258.33L364.78,258.64L365.2,258.96L365.61,259.27L366.03,259.59L366.44,259.91L366.86,260.23L367.27,260.55L367.3,260.57M375.5,267.03L375.56,267.09L375.98,267.42L376.39,267.76L376.81,268.09L377.22,268.43L377.64,268.77L378.05,269.11L378.47,269.45L378.88,269.79L379.29,270.13L379.71,270.48L380.12,270.82L380.54,271.17L380.95,271.51L381.37,271.86L381.78,272.2L382.2,272.55L382.61,272.9L383.03,273.25L383.44,273.6L383.86,273.95L384.27,274.31L384.68,274.66L385.1,275.01L385.51,275.37L385.9,275.7M393.3,282.22L393.39,282.3L393.81,282.68L394.22,283.05L394.64,283.43L395.05,283.81L395.46,284.19L395.88,284.57L396.29,284.95L396.71,285.33L397.12,285.71L397.54,286.1L397.95,286.48L398.37,286.87L398.78,287.26L399.2,287.64L399.61,288.03L400.03,288.42L400.44,288.81L400.85,289.21L401.27,289.6L401.68,290L402.1,290.39L402.51,290.79L402.93,291.19L403.34,291.58L403.76,291.98L404.17,292.39L404.59,292.79L405,293.19L405.42,293.6L405.83,294L406.24,294.41L406.66,294.82L407.07,295.23L407.49,295.64L407.9,296.05L408.32,296.46L408.73,296.87L409.15,297.29L409.56,297.71L409.98,298.12L410.39,298.54L410.81,298.96L411.2,299.36M417.8,306.21L417.85,306.27L418.27,306.71L418.68,307.15L419.1,307.59L419.51,308.03L419.93,308.48L420.34,308.92L420.76,309.37L421.17,309.81L421.58,310.26L422,310.71L422.41,311.16L422.83,311.61L423.24,312.06L423.66,312.52L424.07,312.97L424.49,313.42L424.9,313.88L425.32,314.34L425.73,314.79L426.15,315.25L426.56,315.71L426.97,316.17L427.39,316.63L427.4,316.64M433.7,323.76L434.02,324.13L434.44,324.6L434.85,325.08L435.27,325.55L435.68,326.03L436.1,326.51L436.51,326.99L436.93,327.47L437.34,327.95L437.75,328.43L438.17,328.91L438.58,329.39L439,329.87L439.41,330.36L439.83,330.84L440.24,331.33L440.66,331.81L441.07,332.3L441.49,332.79L441.9,333.27L442.32,333.76L442.73,334.25L443,334.57M448.2,340.75L448.53,341.16L448.95,341.65L449.36,342.15L449.78,342.65L450.19,343.15L450.61,343.65L451.02,344.15L451.44,344.65L451.85,345.15L452.27,345.65L452.68,346.15L453.1,346.65L453.51,347.15L453.92,347.66L454.34,348.16L454.75,348.66L455.17,349.17L455.58,349.67L456,350.18L456.41,350.68L456.83,351.19L457.24,351.69L457.66,352.2L458.07,352.7L458.3,352.98M464.6,360.72L464.7,360.85L465.12,361.36L465.53,361.87L465.95,362.38L466.36,362.89L466.78,363.4L467.19,363.92L467.61,364.43L468.02,364.94L468.44,365.45L468.85,365.97L469.27,366.48L469.68,366.99L470.09,367.5L470.51,368.02L470.92,368.53L471.34,369.04L471.75,369.56L472.17,370.07L472.58,370.59L473,371.1L473.41,371.61L473.5,371.72M479.8,379.53L480.04,379.84L480.46,380.35L480.87,380.86L481.29,381.38L481.7,381.89L482.12,382.4L482.53,382.92L482.95,383.43L483.36,383.94L483.78,384.46L484.19,384.97L484.61,385.48L485.02,386L485.43,386.51L485.85,387.02L486.26,387.53L486.68,388.04L487.09,388.56L487.51,389.07L487.92,389.58L488.34,390.09L488.6,390.41" fill="none" stroke="#1414ff" stroke-width="1.45"/>
<path d="M505,150.19 C505.5,149.03 507,145.51 508.01,143.23 C509.01,140.96 510.01,138.72 511.01,136.54 C512.02,134.35 513.02,132.21 514.02,130.11 C515.02,128.01 516.03,125.96 517.03,123.96 C518.03,121.95 519.03,120 520.04,118.08 C521.04,116.17 522.04,114.31 523.04,112.48 C524.05,110.65 525.05,108.87 526.05,107.12 C527.05,105.37 528.06,103.66 529.06,101.96 C530.06,100.25 531.06,98.58 532.07,96.88 C533.07,95.18 534.07,93.48 535.07,91.76 C536.08,90.03 537.08,88.28 538.08,86.53 C539.08,84.78 540.09,83.01 541.09,81.25 C542.09,79.5 543.09,77.73 544.1,76 C545.1,74.26 546.1,72.53 547.1,70.83 C548.11,69.13 549.11,67.45 550.11,65.82 C551.11,64.18 552.12,62.57 553.12,61.02 C554.12,59.47 555.12,57.96 556.13,56.52 C557.13,55.08 558.13,53.68 559.13,52.37 C560.14,51.06 561.14,49.81 562.14,48.64 C563.14,47.48 564.15,46.4 565.15,45.39 C566.15,44.38 567.15,43.46 568.16,42.6 C569.16,41.74 570.16,40.96 571.16,40.24 C572.17,39.52 573.17,38.87 574.17,38.28 C575.17,37.69 576.18,37.16 577.18,36.69 C578.18,36.21 579.18,35.8 580.19,35.44 C581.19,35.07 582.19,34.77 583.19,34.5 C584.2,34.24 585.2,34.02 586.2,33.85 C587.2,33.67 588.21,33.54 589.21,33.44 C590.21,33.34 591.21,33.29 592.22,33.26 C593.22,33.23 594.22,33.24 595.22,33.26 C596.23,33.29 597.23,33.36 598.23,33.43 C599.23,33.51 600.24,33.62 601.24,33.74 C602.24,33.85 603.24,33.99 604.25,34.14 C605.25,34.28 606.25,34.45 607.25,34.62 C608.26,34.79 609.26,34.98 610.26,35.17 C611.26,35.37 612.27,35.58 613.27,35.8 C614.27,36.02 615.27,36.25 616.28,36.49 C617.28,36.73 618.28,36.99 619.28,37.25 C620.29,37.51 621.29,37.79 622.29,38.07 C623.29,38.35 624.3,38.64 625.3,38.94 C626.3,39.25 627.3,39.56 628.31,39.88 C629.31,40.2 630.31,40.52 631.31,40.86 C632.32,41.2 633.32,41.54 634.32,41.89 C635.32,42.24 636.33,42.6 637.33,42.97 C638.33,43.34 639.33,43.71 640.34,44.09 C641.34,44.47 642.34,44.86 643.34,45.25 C644.35,45.65 645.35,46.05 646.35,46.45 C647.35,46.86 648.36,47.27 649.36,47.68 C650.36,48.1 651.36,48.52 652.37,48.94 C653.37,49.37 654.37,49.8 655.37,50.23 C656.38,50.67 657.38,51.11 658.38,51.55 C659.38,51.99 660.39,52.43 661.39,52.88 C662.39,53.33 663.39,53.78 664.4,54.24 C665.4,54.69 666.4,55.15 667.4,55.61 C668.41,56.07 669.41,56.53 670.41,56.99 C671.41,57.46 672.42,57.93 673.42,58.4 C674.42,58.87 675.42,59.35 676.43,59.83 C677.43,60.31 678.43,60.79 679.43,61.28 C680.44,61.76 681.44,62.26 682.44,62.75 C683.44,63.24 684.45,63.74 685.45,64.24 C686.45,64.75 687.45,65.25 688.46,65.76 C689.46,66.28 690.46,66.79 691.46,67.31 C692.47,67.83 693.47,68.35 694.47,68.88 C695.47,69.41 696.48,69.93 697.48,70.48 C698.48,71.04 699.48,71.64 700.49,72.22 C701.49,72.81 702.49,73.41 703.49,73.99 C704.5,74.58 705.5,75.17 706.5,75.75 C707.5,76.33 708.5,76.91 709.51,77.48 C710.51,78.04 711.51,78.59 712.51,79.14 C713.52,79.68 714.52,80.19 715.52,80.72 C716.52,81.25 717.53,81.77 718.53,82.3 C719.53,82.82 720.53,83.34 721.54,83.86 C722.54,84.38 723.54,84.9 724.54,85.42 C725.55,85.93 726.55,86.45 727.55,86.97 C728.55,87.48 729.56,88 730.56,88.51 C731.56,89.02 732.56,89.54 733.57,90.05 C734.57,90.56 735.57,91.07 736.57,91.59 C737.58,92.1 738.58,92.61 739.58,93.12 C740.58,93.64 741.59,94.15 742.59,94.66 C743.59,95.17 744.59,95.69 745.6,96.2 C746.6,96.71 747.6,97.23 748.6,97.74 C749.61,98.26 750.61,98.77 751.61,99.29 C752.61,99.81 753.62,100.33 754.62,100.85 C755.62,101.36 756.62,101.89 757.63,102.41 C758.63,102.93 759.63,103.46 760.63,103.98 C761.64,104.51 762.64,105.04 763.64,105.57 C764.64,106.1 765.65,106.63 766.65,107.16 C767.65,107.7 768.65,108.23 769.66,108.77 C770.66,109.31 771.66,109.86 772.66,110.4 C773.67,110.95 774.67,111.49 775.67,112.05 C776.67,112.6 777.68,113.15 778.68,113.71 C779.68,114.27 780.68,114.83 781.69,115.39 C782.69,115.96 783.69,116.53 784.69,117.1 C785.7,117.67 786.7,118.25 787.7,118.83 C788.7,119.41 789.71,119.99 790.71,120.58 C791.71,121.17 792.71,121.77 793.72,122.36 C794.72,122.96 795.72,123.57 796.72,124.17 C797.73,124.78 798.73,125.39 799.73,126.01 C800.73,126.63 801.74,127.25 802.74,127.88 C803.74,128.51 804.74,129.15 805.75,129.79 C806.75,130.43 807.75,131.07 808.75,131.72 C809.76,132.37 810.76,133.03 811.76,133.7 C812.76,134.36 813.77,135.03 814.77,135.71 C815.77,136.38 816.77,137.06 817.78,137.75 C818.78,138.44 819.78,139.14 820.78,139.84 C821.79,140.55 822.79,141.26 823.79,141.98 C824.79,142.69 825.8,143.42 826.8,144.15 C827.8,144.88 828.8,145.62 829.81,146.37 C830.81,147.12 831.81,147.87 832.81,148.64 C833.82,149.4 834.82,150.17 835.82,150.95 C836.82,151.73 837.83,152.52 838.83,153.32 C839.83,154.11 840.83,154.92 841.84,155.73 C842.84,156.55 843.84,157.37 844.84,158.2 C845.85,159.03 846.85,159.87 847.85,160.72 C848.85,161.57 849.86,162.43 850.86,163.3 C851.86,164.17 852.86,165.05 853.87,165.94 C854.87,166.82 855.87,167.72 856.87,168.63 C857.88,169.54 858.88,170.46 859.88,171.39 C860.88,172.32 861.89,173.25 862.89,174.2 C863.89,175.15 864.89,176.11 865.9,177.08 C866.9,178.05 867.9,179.02 868.9,180.01 C869.91,180.99 870.91,181.98 871.91,182.97 C872.91,183.96 873.92,184.96 874.92,185.96 C875.92,186.96 876.92,187.97 877.93,188.97 C878.93,189.98 879.93,190.99 880.93,191.99 C881.94,193 882.94,194.01 883.94,195.01 C884.94,196.01 885.95,197.02 886.95,198.01 C887.95,199.01 888.95,200.01 889.96,201 C890.96,201.98 891.96,202.97 892.96,203.94 C893.97,204.92 894.97,205.89 895.97,206.85 C896.97,207.81 897.98,208.76 898.98,209.7 C899.98,210.64 900.98,211.57 901.99,212.48 C902.99,213.4 903.99,214.3 904.99,215.19 C906,216.08 907.5,217.38 908,217.82" fill="none" stroke="#1414ff" stroke-width="1.45" stroke-dasharray="14 10.2" stroke-dashoffset="0"/>
<path d="M505,210.01 C505.83,208.58 508.32,204.15 509.98,201.41 C511.63,198.68 513.29,196.08 514.95,193.6 C516.61,191.11 518.27,188.76 519.93,186.52 C521.58,184.28 523.24,182.17 524.9,180.15 C526.56,178.14 528.22,176.25 529.88,174.46 C531.53,172.66 533.19,170.98 534.85,169.39 C536.51,167.81 538.17,166.32 539.83,164.93 C541.49,163.54 543.14,162.24 544.8,161.03 C546.46,159.81 548.12,158.69 549.78,157.65 C551.44,156.6 553.09,155.65 554.75,154.76 C556.41,153.87 558.07,153.07 559.73,152.32 C561.39,151.58 563.05,150.91 564.7,150.3 C566.36,149.7 568.02,149.15 569.68,148.67 C571.34,148.19 573,147.77 574.65,147.41 C576.31,147.05 577.97,146.76 579.63,146.52 C581.29,146.27 582.95,146.09 584.6,145.96 C586.26,145.83 587.92,145.76 589.58,145.74 C591.24,145.72 592.9,145.75 594.56,145.83 C596.21,145.92 597.87,146.05 599.53,146.23 C601.19,146.41 602.85,146.64 604.51,146.92 C606.16,147.2 607.82,147.52 609.48,147.88 C611.14,148.25 612.8,148.66 614.46,149.11 C616.12,149.56 617.77,150.05 619.43,150.58 C621.09,151.11 622.75,151.68 624.41,152.29 C626.07,152.89 627.72,153.54 629.38,154.21 C631.04,154.89 632.7,155.6 634.36,156.35 C636.02,157.09 637.67,157.86 639.33,158.67 C640.99,159.47 642.65,160.31 644.31,161.17 C645.97,162.03 647.63,162.92 649.28,163.84 C650.94,164.76 652.6,165.7 654.26,166.67 C655.92,167.63 657.58,168.63 659.23,169.64 C660.89,170.66 662.55,171.7 664.21,172.76 C665.87,173.83 667.53,174.92 669.19,176.02 C670.84,177.13 672.5,178.29 674.16,179.4 C675.82,180.51 677.48,181.59 679.14,182.68 C680.79,183.77 682.45,184.85 684.11,185.95 C685.77,187.05 687.43,188.12 689.09,189.28 C690.74,190.44 692.4,191.69 694.06,192.92 C695.72,194.15 697.38,195.4 699.04,196.66 C700.7,197.91 702.35,199.19 704.01,200.47 C705.67,201.76 707.33,203.05 708.99,204.37 C710.65,205.68 712.3,207 713.96,208.33 C715.62,209.67 717.28,211.01 718.94,212.37 C720.6,213.73 722.26,215.09 723.91,216.47 C725.57,217.85 727.23,219.23 728.89,220.63 C730.55,222.03 732.21,223.43 733.86,224.84 C735.52,226.26 737.18,227.68 738.84,229.11 C740.5,230.54 742.16,231.98 743.81,233.42 C745.47,234.86 747.13,236.31 748.79,237.77 C750.45,239.22 752.11,240.69 753.77,242.15 C755.42,243.62 757.08,245.09 758.74,246.57 C760.4,248.05 762.06,249.53 763.72,251.01 C765.37,252.5 767.03,253.98 768.69,255.47 C770.35,256.97 772.01,258.46 773.67,259.96 C775.33,261.46 776.98,262.96 778.64,264.46 C780.3,265.97 781.96,267.48 783.62,268.99 C785.28,270.5 786.93,272.02 788.59,273.54 C790.25,275.06 791.91,276.59 793.57,278.12 C795.23,279.65 796.88,281.18 798.54,282.72 C800.2,284.26 801.86,285.8 803.52,287.35 C805.18,288.9 806.84,290.45 808.49,292.01 C810.15,293.57 811.81,295.13 813.47,296.7 C815.13,298.27 816.79,299.84 818.44,301.42 C820.1,303 821.76,304.58 823.42,306.17 C825.08,307.76 826.74,309.36 828.4,310.96 C830.05,312.56 831.71,314.16 833.37,315.78 C835.03,317.39 836.69,319.01 838.35,320.63 C840,322.26 841.66,323.89 843.32,325.52 C844.98,327.16 846.64,328.8 848.3,330.45 C849.95,332.1 851.61,333.76 853.27,335.42 C854.93,337.09 856.59,338.76 858.25,340.43 C859.91,342.11 861.56,343.79 863.22,345.48 C864.88,347.17 866.54,348.87 868.2,350.58 C869.86,352.28 871.51,353.99 873.17,355.71 C874.83,357.43 876.49,359.16 878.15,360.9 C879.81,362.63 881.47,364.37 883.12,366.12 C884.78,367.88 886.44,369.63 888.1,371.4 C889.76,373.17 891.42,374.94 893.07,376.73 C894.73,378.51 896.39,380.3 898.05,382.1 C899.71,383.9 901.37,385.71 903.02,387.52 C904.68,389.34 907.17,392.09 908,393" fill="none" stroke="#1414ff" stroke-width="1.45" stroke-dasharray="14 10.2" stroke-dashoffset="0"/>
<path d="M92.8,72.79 C93.63,71.87 96.12,69.04 97.78,67.28 C99.43,65.51 101.09,63.82 102.75,62.19 C104.41,60.56 106.07,59.01 107.73,57.51 C109.38,56.01 111.04,54.58 112.7,53.21 C114.36,51.84 116.02,50.53 117.68,49.27 C119.33,48.02 120.99,46.83 122.65,45.68 C124.31,44.54 125.97,43.45 127.63,42.41 C129.29,41.38 130.94,40.39 132.6,39.45 C134.26,38.51 135.92,37.62 137.58,36.77 C139.24,35.92 140.89,35.12 142.55,34.35 C144.21,33.59 145.87,32.87 147.53,32.19 C149.19,31.5 150.85,30.86 152.5,30.26 C154.16,29.65 155.82,29.08 157.48,28.55 C159.14,28.01 160.8,27.51 162.45,27.05 C164.11,26.58 165.77,26.15 167.43,25.75 C169.09,25.34 170.75,24.97 172.4,24.63 C174.06,24.28 175.72,23.97 177.38,23.68 C179.04,23.39 180.7,23.13 182.36,22.89 C184.01,22.66 185.67,22.44 187.33,22.25 C188.99,22.06 190.65,21.89 192.31,21.74 C193.96,21.59 195.62,21.47 197.28,21.36 C198.94,21.25 200.6,21.16 202.26,21.1 C203.92,21.03 205.57,20.99 207.23,20.97 C208.89,20.94 210.55,20.94 212.21,20.96 C213.87,20.98 215.52,21.03 217.18,21.09 C218.84,21.16 220.5,21.25 222.16,21.36 C223.82,21.47 225.47,21.6 227.13,21.76 C228.79,21.92 230.45,22.1 232.11,22.3 C233.77,22.5 235.43,22.73 237.08,22.98 C238.74,23.24 240.4,23.51 242.06,23.81 C243.72,24.12 245.38,24.44 247.03,24.79 C248.69,25.14 250.35,25.52 252.01,25.92 C253.67,26.32 255.33,26.75 256.99,27.2 C258.64,27.65 260.3,28.13 261.96,28.64 C263.62,29.14 265.28,29.67 266.94,30.23 C268.59,30.79 270.25,31.38 271.91,31.99 C273.57,32.6 275.23,33.24 276.89,33.91 C278.54,34.57 280.2,35.27 281.86,35.99 C283.52,36.71 285.18,37.46 286.84,38.23 C288.5,39.01 290.15,39.81 291.81,40.63 C293.47,41.46 295.13,42.31 296.79,43.18 C298.45,44.05 300.1,44.95 301.76,45.87 C303.42,46.79 305.08,47.73 306.74,48.69 C308.4,49.66 310.06,50.64 311.71,51.65 C313.37,52.65 315.03,53.68 316.69,54.72 C318.35,55.77 320.01,56.83 321.66,57.91 C323.32,59 324.98,60.1 326.64,61.21 C328.3,62.33 329.96,63.47 331.61,64.62 C333.27,65.77 334.93,66.94 336.59,68.12 C338.25,69.3 339.91,70.5 341.57,71.71 C343.22,72.92 344.88,74.15 346.54,75.39 C348.2,76.62 349.86,77.87 351.52,79.14 C353.17,80.4 354.83,81.68 356.49,82.96 C358.15,84.25 359.81,85.54 361.47,86.85 C363.13,88.15 364.78,89.47 366.44,90.79 C368.1,92.12 369.76,93.45 371.42,94.79 C373.08,96.13 374.73,97.48 376.39,98.84 C378.05,100.2 379.71,101.57 381.37,102.94 C383.03,104.31 384.68,105.69 386.34,107.08 C388,108.47 389.66,109.86 391.32,111.26 C392.98,112.66 394.64,114.07 396.29,115.48 C397.95,116.9 399.61,118.32 401.27,119.74 C402.93,121.17 404.59,122.6 406.24,124.03 C407.9,125.47 409.56,126.91 411.22,128.36 C412.88,129.8 414.54,131.25 416.2,132.71 C417.85,134.16 419.51,135.62 421.17,137.08 C422.83,138.54 424.49,140.01 426.15,141.48 C427.8,142.95 429.46,144.42 431.12,145.9 C432.78,147.37 434.44,148.85 436.1,150.33 C437.75,151.82 439.41,153.3 441.07,154.78 C442.73,156.27 444.39,157.76 446.05,159.25 C447.71,160.73 449.36,162.23 451.02,163.72 C452.68,165.21 454.34,166.7 456,168.19 C457.66,169.69 459.31,171.18 460.97,172.67 C462.63,174.17 464.29,175.66 465.95,177.15 C467.61,178.65 469.27,180.14 470.92,181.63 C472.58,183.12 474.24,184.62 475.9,186.11 C477.56,187.6 479.22,189.08 480.87,190.57 C482.53,192.06 484.19,193.54 485.85,195.03 C487.51,196.51 489.17,197.99 490.82,199.47 C492.48,200.95 494.97,203.16 495.8,203.9" fill="none" stroke="#000" stroke-width="1.45"/>
<path d="M92.8,188.2 C93.63,187.22 96.12,184.22 97.78,182.33 C99.43,180.45 101.09,178.64 102.75,176.9 C104.41,175.15 106.07,173.48 107.73,171.88 C109.38,170.27 111.04,168.74 112.7,167.27 C114.36,165.81 116.02,164.41 117.68,163.07 C119.33,161.74 120.99,160.47 122.65,159.27 C124.31,158.06 125.97,156.93 127.63,155.85 C129.29,154.78 130.94,153.77 132.6,152.82 C134.26,151.87 135.92,150.99 137.58,150.16 C139.24,149.33 140.89,148.57 142.55,147.87 C144.21,147.16 145.87,146.52 147.53,145.93 C149.19,145.34 150.85,144.82 152.5,144.35 C154.16,143.87 155.82,143.46 157.48,143.1 C159.14,142.75 160.8,142.44 162.45,142.2 C164.11,141.95 165.77,141.76 167.43,141.62 C169.09,141.48 170.75,141.39 172.4,141.36 C174.06,141.32 175.72,141.34 177.38,141.41 C179.04,141.48 180.7,141.6 182.36,141.77 C184.01,141.94 185.67,142.16 187.33,142.42 C188.99,142.69 190.65,143 192.31,143.36 C193.96,143.72 195.62,144.13 197.28,144.59 C198.94,145.04 200.6,145.54 202.26,146.08 C203.92,146.62 205.57,147.2 207.23,147.82 C208.89,148.44 210.55,149.11 212.21,149.81 C213.87,150.51 215.52,151.25 217.18,152.02 C218.84,152.8 220.5,153.61 222.16,154.46 C223.82,155.3 225.47,156.18 227.13,157.09 C228.79,158 230.45,158.94 232.11,159.91 C233.77,160.88 235.43,161.88 237.08,162.91 C238.74,163.94 240.4,164.99 242.06,166.07 C243.72,167.15 245.38,168.26 247.03,169.39 C248.69,170.52 250.35,171.67 252.01,172.84 C253.67,174.01 255.33,175.2 256.99,176.42 C258.64,177.63 260.3,178.86 261.96,180.11 C263.62,181.36 265.28,182.63 266.94,183.92 C268.59,185.2 270.25,186.5 271.91,187.82 C273.57,189.14 275.23,190.47 276.89,191.82 C278.54,193.16 280.2,194.52 281.86,195.9 C283.52,197.27 285.18,198.65 286.84,200.05 C288.5,201.44 290.15,202.85 291.81,204.27 C293.47,205.68 295.13,207.11 296.79,208.54 C298.45,209.98 300.1,211.42 301.76,212.87 C303.42,214.32 305.08,215.77 306.74,217.23 C308.4,218.7 310.06,220.16 311.71,221.64 C313.37,223.11 315.03,224.59 316.69,226.07 C318.35,227.56 320.01,229.05 321.66,230.54 C323.32,232.04 324.98,233.54 326.64,235.05 C328.3,236.55 329.96,238.06 331.61,239.57 C333.27,241.09 334.93,242.61 336.59,244.13 C338.25,245.65 339.91,247.18 341.57,248.71 C343.22,250.24 344.88,251.77 346.54,253.3 C348.2,254.84 349.86,256.38 351.52,257.92 C353.17,259.46 354.83,261.01 356.49,262.56 C358.15,264.1 359.81,265.65 361.47,267.2 C363.13,268.76 364.78,270.31 366.44,271.87 C368.1,273.42 369.76,274.98 371.42,276.55 C373.08,278.11 374.73,279.67 376.39,281.24 C378.05,282.81 379.71,284.38 381.37,285.95 C383.03,287.53 384.68,289.1 386.34,290.68 C388,292.26 389.66,293.84 391.32,295.43 C392.98,297.01 394.64,298.6 396.29,300.19 C397.95,301.78 399.61,303.38 401.27,304.97 C402.93,306.57 404.59,308.17 406.24,309.78 C407.9,311.38 409.56,312.99 411.22,314.6 C412.88,316.21 414.54,317.82 416.2,319.44 C417.85,321.06 419.51,322.68 421.17,324.3 C422.83,325.93 424.49,327.56 426.15,329.19 C427.8,330.82 429.46,332.46 431.12,334.1 C432.78,335.74 434.44,337.39 436.1,339.04 C437.75,340.69 439.41,342.34 441.07,344 C442.73,345.66 444.39,347.33 446.05,348.99 C447.71,350.66 449.36,352.34 451.02,354.02 C452.68,355.69 454.34,357.38 456,359.07 C457.66,360.76 459.31,362.45 460.97,364.15 C462.63,365.85 464.29,367.56 465.95,369.27 C467.61,370.98 469.27,372.69 470.92,374.42 C472.58,376.14 474.24,377.87 475.9,379.6 C477.56,381.34 479.22,383.08 480.87,384.82 C482.53,386.57 484.19,388.32 485.85,390.08 C487.51,391.84 489.17,393.61 490.82,395.38 C492.48,397.15 494.97,399.83 495.8,400.72" fill="none" stroke="#000" stroke-width="1.45"/>
<path d="M505,150.19 C505.5,149.03 507,145.51 508.01,143.23 C509.01,140.96 510.01,138.72 511.01,136.54 C512.02,134.35 513.02,132.21 514.02,130.11 C515.02,128.01 516.03,125.96 517.03,123.96 C518.03,121.95 519.03,120 520.04,118.08 C521.04,116.17 522.04,114.31 523.04,112.48 C524.05,110.65 525.05,108.87 526.05,107.12 C527.05,105.37 528.06,103.66 529.06,101.96 C530.06,100.25 531.06,98.58 532.07,96.88 C533.07,95.18 534.07,93.48 535.07,91.76 C536.08,90.03 537.08,88.28 538.08,86.53 C539.08,84.78 540.09,83.01 541.09,81.25 C542.09,79.5 543.09,77.73 544.1,76 C545.1,74.26 546.1,72.53 547.1,70.83 C548.11,69.13 549.11,67.45 550.11,65.82 C551.11,64.18 552.12,62.57 553.12,61.02 C554.12,59.47 555.12,57.96 556.13,56.52 C557.13,55.08 558.13,53.68 559.13,52.37 C560.14,51.06 561.14,49.81 562.14,48.64 C563.14,47.48 564.15,46.4 565.15,45.39 C566.15,44.38 567.15,43.46 568.16,42.6 C569.16,41.74 570.16,40.96 571.16,40.24 C572.17,39.52 573.17,38.87 574.17,38.28 C575.17,37.69 576.18,37.16 577.18,36.69 C578.18,36.21 579.18,35.8 580.19,35.44 C581.19,35.07 582.19,34.77 583.19,34.5 C584.2,34.24 585.2,34.02 586.2,33.85 C587.2,33.67 588.21,33.54 589.21,33.44 C590.21,33.34 591.21,33.29 592.22,33.26 C593.22,33.23 594.22,33.24 595.22,33.26 C596.23,33.29 597.23,33.36 598.23,33.43 C599.23,33.51 600.24,33.62 601.24,33.74 C602.24,33.85 603.24,33.99 604.25,34.14 C605.25,34.28 606.25,34.45 607.25,34.62 C608.26,34.79 609.26,34.98 610.26,35.17 C611.26,35.37 612.27,35.58 613.27,35.8 C614.27,36.02 615.27,36.25 616.28,36.49 C617.28,36.73 618.28,36.99 619.28,37.25 C620.29,37.51 621.29,37.79 622.29,38.07 C623.29,38.35 624.3,38.64 625.3,38.94 C626.3,39.25 627.3,39.56 628.31,39.88 C629.31,40.2 630.31,40.52 631.31,40.86 C632.32,41.2 633.32,41.54 634.32,41.89 C635.32,42.24 636.33,42.6 637.33,42.97 C638.33,43.34 639.33,43.71 640.34,44.09 C641.34,44.47 642.34,44.86 643.34,45.25 C644.35,45.65 645.35,46.05 646.35,46.45 C647.35,46.86 648.36,47.27 649.36,47.68 C650.36,48.1 651.36,48.52 652.37,48.94 C653.37,49.37 654.37,49.8 655.37,50.23 C656.38,50.67 657.38,51.11 658.38,51.55 C659.38,51.99 660.39,52.43 661.39,52.88 C662.39,53.33 663.39,53.78 664.4,54.24 C665.4,54.69 666.4,55.15 667.4,55.61 C668.41,56.07 669.41,56.53 670.41,56.99 C671.41,57.46 672.42,57.93 673.42,58.4 C674.42,58.87 675.42,59.35 676.43,59.83 C677.43,60.31 678.43,60.79 679.43,61.28 C680.44,61.76 681.44,62.26 682.44,62.75 C683.44,63.24 684.45,63.74 685.45,64.24 C686.45,64.75 687.45,65.25 688.46,65.76 C689.46,66.28 690.46,66.79 691.46,67.31 C692.47,67.83 693.47,68.35 694.47,68.88 C695.47,69.41 696.48,69.94 697.48,70.48 C698.48,71.02 699.48,71.56 700.49,72.11 C701.49,72.66 702.49,73.21 703.49,73.77 C704.5,74.33 705.5,74.89 706.5,75.46 C707.5,76.03 708.5,76.61 709.51,77.19 C710.51,77.77 711.51,78.35 712.51,78.95 C713.52,79.54 714.52,80.13 715.52,80.74 C716.52,81.34 717.53,81.95 718.53,82.57 C719.53,83.18 720.53,83.8 721.54,84.43 C722.54,85.06 723.54,85.69 724.54,86.33 C725.55,86.98 726.55,87.62 727.55,88.28 C728.55,88.93 729.56,89.59 730.56,90.26 C731.56,90.93 732.56,91.6 733.57,92.28 C734.57,92.96 735.57,93.64 736.57,94.33 C737.58,95.03 738.58,95.72 739.58,96.42 C740.58,97.12 741.59,97.83 742.59,98.54 C743.59,99.25 744.59,99.96 745.6,100.68 C746.6,101.4 747.6,102.12 748.6,102.85 C749.61,103.57 750.61,104.3 751.61,105.03 C752.61,105.76 753.62,106.5 754.62,107.23 C755.62,107.97 756.62,108.71 757.63,109.45 C758.63,110.19 759.63,110.93 760.63,111.68 C761.64,112.42 762.64,113.17 763.64,113.91 C764.64,114.66 765.65,115.41 766.65,116.16 C767.65,116.9 768.65,117.65 769.66,118.4 C770.66,119.15 771.66,119.9 772.66,120.64 C773.67,121.39 774.67,122.14 775.67,122.88 C776.67,123.63 777.68,124.37 778.68,125.12 C779.68,125.86 780.68,126.61 781.69,127.35 C782.69,128.09 783.69,128.84 784.69,129.58 C785.7,130.32 786.7,131.07 787.7,131.81 C788.7,132.56 789.71,133.3 790.71,134.05 C791.71,134.79 792.71,135.54 793.72,136.28 C794.72,137.03 795.72,137.77 796.72,138.52 C797.73,139.27 798.73,140.02 799.73,140.77 C800.73,141.52 801.74,142.27 802.74,143.02 C803.74,143.78 804.74,144.53 805.75,145.29 C806.75,146.05 807.75,146.8 808.75,147.56 C809.76,148.32 810.76,149.09 811.76,149.85 C812.76,150.62 813.77,151.38 814.77,152.15 C815.77,152.92 816.77,153.69 817.78,154.47 C818.78,155.24 819.78,156.02 820.78,156.8 C821.79,157.58 822.79,158.37 823.79,159.15 C824.79,159.94 825.8,160.73 826.8,161.53 C827.8,162.32 828.8,163.12 829.81,163.92 C830.81,164.72 831.81,165.52 832.81,166.33 C833.82,167.14 834.82,167.96 835.82,168.77 C836.82,169.59 837.83,170.41 838.83,171.24 C839.83,172.07 840.83,172.9 841.84,173.73 C842.84,174.57 843.84,175.41 844.84,176.25 C845.85,177.1 846.85,177.95 847.85,178.81 C848.85,179.66 849.86,180.53 850.86,181.39 C851.86,182.26 852.86,183.13 853.87,184.01 C854.87,184.88 855.87,185.76 856.87,186.65 C857.88,187.53 858.88,188.42 859.88,189.32 C860.88,190.21 861.89,191.11 862.89,192 C863.89,192.9 864.89,193.81 865.9,194.71 C866.9,195.61 867.9,196.52 868.9,197.43 C869.91,198.34 870.91,199.25 871.91,200.16 C872.91,201.07 873.92,201.98 874.92,202.9 C875.92,203.81 876.92,204.73 877.93,205.64 C878.93,206.55 879.93,207.47 880.93,208.38 C881.94,209.3 882.94,210.21 883.94,211.12 C884.94,212.03 885.95,212.95 886.95,213.86 C887.95,214.77 888.95,215.67 889.96,216.58 C890.96,217.49 891.96,218.39 892.96,219.29 C893.97,220.19 894.97,221.09 895.97,221.99 C896.97,222.88 897.98,223.77 898.98,224.66 C899.98,225.55 900.98,226.44 901.99,227.32 C902.99,228.2 903.99,229.07 904.99,229.94 C906,230.81 907.5,232.11 908,232.54" fill="none" stroke="#000" stroke-width="1.45"/>
<path d="M505,210.01 C505.83,208.58 508.32,204.15 509.98,201.41 C511.63,198.68 513.29,196.08 514.95,193.6 C516.61,191.11 518.27,188.76 519.93,186.52 C521.58,184.28 523.24,182.17 524.9,180.15 C526.56,178.14 528.22,176.25 529.88,174.46 C531.53,172.66 533.19,170.98 534.85,169.39 C536.51,167.81 538.17,166.32 539.83,164.93 C541.49,163.54 543.14,162.24 544.8,161.03 C546.46,159.81 548.12,158.69 549.78,157.65 C551.44,156.6 553.09,155.65 554.75,154.76 C556.41,153.87 558.07,153.07 559.73,152.32 C561.39,151.58 563.05,150.91 564.7,150.3 C566.36,149.7 568.02,149.15 569.68,148.67 C571.34,148.19 573,147.77 574.65,147.41 C576.31,147.05 577.97,146.76 579.63,146.52 C581.29,146.27 582.95,146.09 584.6,145.96 C586.26,145.83 587.92,145.76 589.58,145.74 C591.24,145.72 592.9,145.75 594.56,145.83 C596.21,145.92 597.87,146.05 599.53,146.23 C601.19,146.41 602.85,146.64 604.51,146.92 C606.16,147.2 607.82,147.52 609.48,147.88 C611.14,148.25 612.8,148.66 614.46,149.11 C616.12,149.56 617.77,150.05 619.43,150.58 C621.09,151.11 622.75,151.68 624.41,152.29 C626.07,152.89 627.72,153.54 629.38,154.21 C631.04,154.89 632.7,155.6 634.36,156.35 C636.02,157.09 637.67,157.86 639.33,158.67 C640.99,159.47 642.65,160.31 644.31,161.17 C645.97,162.03 647.63,162.92 649.28,163.84 C650.94,164.76 652.6,165.7 654.26,166.67 C655.92,167.63 657.58,168.63 659.23,169.64 C660.89,170.66 662.55,171.7 664.21,172.76 C665.87,173.83 667.53,174.91 669.19,176.02 C670.84,177.13 672.5,178.26 674.16,179.41 C675.82,180.55 677.48,181.72 679.14,182.91 C680.79,184.1 682.45,185.31 684.11,186.53 C685.77,187.75 687.43,189 689.09,190.25 C690.74,191.51 692.4,192.79 694.06,194.08 C695.72,195.37 697.38,196.67 699.04,197.99 C700.7,199.31 702.35,200.64 704.01,201.98 C705.67,203.33 707.33,204.69 708.99,206.05 C710.65,207.42 712.3,208.8 713.96,210.19 C715.62,211.58 717.28,212.98 718.94,214.39 C720.6,215.8 722.26,217.21 723.91,218.64 C725.57,220.06 727.23,221.5 728.89,222.93 C730.55,224.37 732.21,225.82 733.86,227.27 C735.52,228.72 737.18,230.17 738.84,231.63 C740.5,233.09 742.16,234.55 743.81,236.01 C745.47,237.48 747.13,238.94 748.79,240.41 C750.45,241.88 752.11,243.35 753.77,244.83 C755.42,246.3 757.08,247.78 758.74,249.26 C760.4,250.74 762.06,252.22 763.72,253.71 C765.37,255.19 767.03,256.68 768.69,258.17 C770.35,259.67 772.01,261.16 773.67,262.66 C775.33,264.16 776.98,265.66 778.64,267.16 C780.3,268.67 781.96,270.17 783.62,271.69 C785.28,273.2 786.93,274.71 788.59,276.23 C790.25,277.75 791.91,279.27 793.57,280.8 C795.23,282.32 796.88,283.85 798.54,285.39 C800.2,286.92 801.86,288.46 803.52,290 C805.18,291.54 806.84,293.09 808.49,294.64 C810.15,296.19 811.81,297.75 813.47,299.31 C815.13,300.86 816.79,302.43 818.44,304 C820.1,305.56 821.76,307.14 823.42,308.71 C825.08,310.29 826.74,311.87 828.4,313.46 C830.05,315.05 831.71,316.64 833.37,318.24 C835.03,319.83 836.69,321.43 838.35,323.04 C840,324.65 841.66,326.26 843.32,327.88 C844.98,329.49 846.64,331.12 848.3,332.74 C849.95,334.37 851.61,336.01 853.27,337.65 C854.93,339.28 856.59,340.93 858.25,342.58 C859.91,344.23 861.56,345.89 863.22,347.55 C864.88,349.21 866.54,350.88 868.2,352.55 C869.86,354.23 871.51,355.9 873.17,357.59 C874.83,359.28 876.49,360.97 878.15,362.67 C879.81,364.37 881.47,366.07 883.12,367.78 C884.78,369.49 886.44,371.21 888.1,372.94 C889.76,374.66 891.42,376.39 893.07,378.13 C894.73,379.87 896.39,381.61 898.05,383.36 C899.71,385.11 901.37,386.87 903.02,388.64 C904.68,390.4 907.17,393.07 908,393.95" fill="none" stroke="#000" stroke-width="1.45"/>
</g>
<rect x="92.95" y="7.95" width="403" height="402.9" fill="none" stroke="#2a2a2a" stroke-width="1.25"/>
<rect x="505.1" y="7.95" width="403" height="402.9" fill="none" stroke="#2a2a2a" stroke-width="1.25"/>
<path d="M226.88,343.8H293.85" stroke="#ff1a1a" stroke-width="1.35" stroke-dasharray="3 4.8" fill="none"/>
<path d="M226.88,363.5H293.85" stroke="#1414ff" stroke-width="1.35" stroke-dasharray="13.9 10.3" fill="none"/>
<path d="M226.88,382.1H293.85" stroke="#000" stroke-width="1.35" fill="none"/>
<path d="M639.03,343.8H706" stroke="#ff1a1a" stroke-width="1.35" stroke-dasharray="3 4.8" fill="none"/>
<path d="M639.03,363.5H706" stroke="#1414ff" stroke-width="1.35" stroke-dasharray="13.9 10.3" fill="none"/>
<path d="M639.03,382.1H706" stroke="#000" stroke-width="1.35" fill="none"/>
<defs><filter id="nf" x="0" y="0" width="100%" height="100%" filterUnits="userSpaceOnUse" color-interpolation-filters="sRGB"><feOffset dx="0" dy="0"/></filter></defs>
<g filter="url(#nf)">
<text x="302.4" y="350.5" font-size="18.6" fill="#ff0000" font-family="Liberation Serif, serif" textLength="15.1" lengthAdjust="spacingAndGlyphs">1i</text>
<text x="302.4" y="369.7" font-size="18.6" fill="#0000ff" font-family="Liberation Serif, serif" textLength="21.1" lengthAdjust="spacingAndGlyphs">1h</text>
<text x="302.4" y="388.4" font-size="18.6" fill="#000" font-family="Liberation Serif, serif" textLength="20.3" lengthAdjust="spacingAndGlyphs">1a</text>
<text x="139.5" y="365.2" font-size="23.4" fill="#000" font-family="Liberation Sans, sans-serif" textLength="32.4" lengthAdjust="spacingAndGlyphs" stroke="#000" stroke-width="0.3">RS</text>
<text x="88.05" y="436.4" font-size="20.5" fill="#111" font-family="Liberation Serif, serif" textLength="10.4" lengthAdjust="spacingAndGlyphs">1</text>
<text x="149.52" y="436.4" font-size="20.5" fill="#111" font-family="Liberation Serif, serif" textLength="22" lengthAdjust="spacingAndGlyphs">10</text>
<text x="212.28" y="436.6" font-size="20.5" fill="#111" font-family="Liberation Serif, serif" textLength="22.2" lengthAdjust="spacingAndGlyphs">10</text>
<text x="234.58" y="430.3" font-size="13.2" fill="#111" font-family="Liberation Serif, serif" textLength="8.2" lengthAdjust="spacingAndGlyphs">2</text>
<text x="279.45" y="436.6" font-size="20.5" fill="#111" font-family="Liberation Serif, serif" textLength="22.2" lengthAdjust="spacingAndGlyphs">10</text>
<text x="301.75" y="430.3" font-size="13.2" fill="#111" font-family="Liberation Serif, serif" textLength="8.2" lengthAdjust="spacingAndGlyphs">3</text>
<text x="346.62" y="436.6" font-size="20.5" fill="#111" font-family="Liberation Serif, serif" textLength="22.2" lengthAdjust="spacingAndGlyphs">10</text>
<text x="368.92" y="430.3" font-size="13.2" fill="#111" font-family="Liberation Serif, serif" textLength="8.2" lengthAdjust="spacingAndGlyphs">4</text>
<text x="413.78" y="436.6" font-size="20.5" fill="#111" font-family="Liberation Serif, serif" textLength="22.2" lengthAdjust="spacingAndGlyphs">10</text>
<text x="436.08" y="430.3" font-size="13.2" fill="#111" font-family="Liberation Serif, serif" textLength="8.2" lengthAdjust="spacingAndGlyphs">5</text>
<text x="480.95" y="436.6" font-size="20.5" fill="#111" font-family="Liberation Serif, serif" textLength="22.2" lengthAdjust="spacingAndGlyphs">10</text>
<text x="503.25" y="430.3" font-size="13.2" fill="#111" font-family="Liberation Serif, serif" textLength="8.2" lengthAdjust="spacingAndGlyphs">6</text>
<text x="251.6" y="466.2" font-size="24" fill="#111" font-family="Liberation Serif, serif" textLength="8.2" lengthAdjust="spacingAndGlyphs">t</text>
<text x="260.8" y="472.2" font-size="14.2" fill="#111" font-family="Liberation Serif, serif" textLength="23.6" lengthAdjust="spacingAndGlyphs">obs</text>
<text x="296" y="467.1" font-size="27.4" fill="#111" font-family="Liberation Serif, serif">[</text>
<text x="306" y="466.4" font-size="24" fill="#111" font-family="Liberation Serif, serif" textLength="11.8" lengthAdjust="spacingAndGlyphs">s</text>
<text x="317" y="467.1" font-size="27.4" fill="#111" font-family="Liberation Serif, serif">]</text>
<text x="714.55" y="350.5" font-size="18.6" fill="#ff0000" font-family="Liberation Serif, serif" textLength="15.1" lengthAdjust="spacingAndGlyphs">1i</text>
<text x="714.55" y="369.7" font-size="18.6" fill="#0000ff" font-family="Liberation Serif, serif" textLength="21.1" lengthAdjust="spacingAndGlyphs">1h</text>
<text x="714.55" y="388.4" font-size="18.6" fill="#000" font-family="Liberation Serif, serif" textLength="20.3" lengthAdjust="spacingAndGlyphs">1a</text>
<text x="552.4" y="365.2" font-size="23.4" fill="#000" font-family="Liberation Sans, sans-serif" textLength="29.6" lengthAdjust="spacingAndGlyphs" stroke="#000" stroke-width="0.3">FS</text>
<text x="561.67" y="436.4" font-size="20.5" fill="#111" font-family="Liberation Serif, serif" textLength="22" lengthAdjust="spacingAndGlyphs">10</text>
<text x="624.43" y="436.6" font-size="20.5" fill="#111" font-family="Liberation Serif, serif" textLength="22.2" lengthAdjust="spacingAndGlyphs">10</text>
<text x="646.73" y="430.3" font-size="13.2" fill="#111" font-family="Liberation Serif, serif" textLength="8.2" lengthAdjust="spacingAndGlyphs">2</text>
<text x="691.6" y="436.6" font-size="20.5" fill="#111" font-family="Liberation Serif, serif" textLength="22.2" lengthAdjust="spacingAndGlyphs">10</text>
<text x="713.9" y="430.3" font-size="13.2" fill="#111" font-family="Liberation Serif, serif" textLength="8.2" lengthAdjust="spacingAndGlyphs">3</text>
<text x="758.77" y="436.6" font-size="20.5" fill="#111" font-family="Liberation Serif, serif" textLength="22.2" lengthAdjust="spacingAndGlyphs">10</text>
<text x="781.07" y="430.3" font-size="13.2" fill="#111" font-family="Liberation Serif, serif" textLength="8.2" lengthAdjust="spacingAndGlyphs">4</text>
<text x="825.93" y="436.6" font-size="20.5" fill="#111" font-family="Liberation Serif, serif" textLength="22.2" lengthAdjust="spacingAndGlyphs">10</text>
<text x="848.23" y="430.3" font-size="13.2" fill="#111" font-family="Liberation Serif, serif" textLength="8.2" lengthAdjust="spacingAndGlyphs">5</text>
<text x="893.1" y="436.6" font-size="20.5" fill="#111" font-family="Liberation Serif, serif" textLength="22.2" lengthAdjust="spacingAndGlyphs">10</text>
<text x="915.4" y="430.3" font-size="13.2" fill="#111" font-family="Liberation Serif, serif" textLength="8.2" lengthAdjust="spacingAndGlyphs">6</text>
<text x="663.75" y="466.2" font-size="24" fill="#111" font-family="Liberation Serif, serif" textLength="8.2" lengthAdjust="spacingAndGlyphs">t</text>
<text x="672.95" y="472.2" font-size="14.2" fill="#111" font-family="Liberation Serif, serif" textLength="23.6" lengthAdjust="spacingAndGlyphs">obs</text>
<text x="708.15" y="467.1" font-size="27.4" fill="#111" font-family="Liberation Serif, serif">[</text>
<text x="718.15" y="466.4" font-size="24" fill="#111" font-family="Liberation Serif, serif" textLength="11.8" lengthAdjust="spacingAndGlyphs">s</text>
<text x="729.15" y="467.1" font-size="27.4" fill="#111" font-family="Liberation Serif, serif">]</text>
<text x="70.4" y="14.85" font-size="20" fill="#111" font-family="Liberation Serif, serif" textLength="10" lengthAdjust="spacingAndGlyphs">1</text>
<text x="51.2" y="78.91" font-size="20" fill="#111" font-family="Liberation Serif, serif" textLength="29.2" lengthAdjust="spacingAndGlyphs">0.1</text>
<text x="41.2" y="143.77" font-size="20" fill="#111" font-family="Liberation Serif, serif" textLength="22" lengthAdjust="spacingAndGlyphs">10</text>
<text x="65.3" y="137.47" font-size="12.8" fill="#111" font-family="Liberation Serif, serif" textLength="7.3" lengthAdjust="spacingAndGlyphs">−</text>
<text x="73.3" y="137.37" font-size="13.2" fill="#111" font-family="Liberation Serif, serif" textLength="8.4" lengthAdjust="spacingAndGlyphs">2</text>
<text x="41.2" y="207.83" font-size="20" fill="#111" font-family="Liberation Serif, serif" textLength="22" lengthAdjust="spacingAndGlyphs">10</text>
<text x="65.3" y="201.53" font-size="12.8" fill="#111" font-family="Liberation Serif, serif" textLength="7.3" lengthAdjust="spacingAndGlyphs">−</text>
<text x="73.3" y="201.43" font-size="13.2" fill="#111" font-family="Liberation Serif, serif" textLength="8.4" lengthAdjust="spacingAndGlyphs">3</text>
<text x="41.2" y="271.89" font-size="20" fill="#111" font-family="Liberation Serif, serif" textLength="22" lengthAdjust="spacingAndGlyphs">10</text>
<text x="65.3" y="265.59" font-size="12.8" fill="#111" font-family="Liberation Serif, serif" textLength="7.3" lengthAdjust="spacingAndGlyphs">−</text>
<text x="73.3" y="265.49" font-size="13.2" fill="#111" font-family="Liberation Serif, serif" textLength="8.4" lengthAdjust="spacingAndGlyphs">4</text>
<text x="41.2" y="335.95" font-size="20" fill="#111" font-family="Liberation Serif, serif" textLength="22" lengthAdjust="spacingAndGlyphs">10</text>
<text x="65.3" y="329.65" font-size="12.8" fill="#111" font-family="Liberation Serif, serif" textLength="7.3" lengthAdjust="spacingAndGlyphs">−</text>
<text x="73.3" y="329.55" font-size="13.2" fill="#111" font-family="Liberation Serif, serif" textLength="8.4" lengthAdjust="spacingAndGlyphs">5</text>
<text x="41.2" y="400.01" font-size="20" fill="#111" font-family="Liberation Serif, serif" textLength="22" lengthAdjust="spacingAndGlyphs">10</text>
<text x="65.3" y="393.71" font-size="12.8" fill="#111" font-family="Liberation Serif, serif" textLength="7.3" lengthAdjust="spacingAndGlyphs">−</text>
<text x="73.3" y="393.61" font-size="13.2" fill="#111" font-family="Liberation Serif, serif" textLength="8.4" lengthAdjust="spacingAndGlyphs">6</text>
<text transform="translate(20.8,263.4) rotate(-90)" font-size="23.6" fill="#111" font-family="Liberation Serif, serif" textLength="12.6" lengthAdjust="spacingAndGlyphs">F</text>
<text transform="translate(27.4,249.6) rotate(-90)" font-size="14.5" fill="#111" font-family="Liberation Serif, serif" textLength="7.6" lengthAdjust="spacingAndGlyphs" font-style="italic">ν</text>
<text transform="translate(21,230) rotate(-90)" font-size="27.6" fill="#111" font-family="Liberation Serif, serif">[</text>
<text transform="translate(20.6,221.2) rotate(-90)" font-size="23.6" fill="#111" font-family="Liberation Serif, serif" textLength="18.2" lengthAdjust="spacingAndGlyphs">m</text>
<text transform="translate(20.6,199.8) rotate(-90)" font-size="23.6" fill="#111" font-family="Liberation Serif, serif" textLength="10.2" lengthAdjust="spacingAndGlyphs">J</text>
<text transform="translate(20.6,188.2) rotate(-90)" font-size="23.6" fill="#111" font-family="Liberation Serif, serif" textLength="12.8" lengthAdjust="spacingAndGlyphs">y</text>
<text transform="translate(21,174.2) rotate(-90)" font-size="27.6" fill="#111" font-family="Liberation Serif, serif">]</text>
<text x="144.4" y="50.5" font-size="18.6" fill="#111" font-family="Liberation Serif, serif" textLength="12.8" lengthAdjust="spacingAndGlyphs" font-style="italic">R</text>
<text x="168.2" y="50.5" font-size="18.6" fill="#111" font-family="Liberation Serif, serif" textLength="45" lengthAdjust="spacingAndGlyphs">band</text>
<text x="556.4" y="73.7" font-size="18.6" fill="#111" font-family="Liberation Serif, serif" textLength="12.8" lengthAdjust="spacingAndGlyphs" font-style="italic">R</text>
<text x="580.2" y="73.7" font-size="18.6" fill="#111" font-family="Liberation Serif, serif" textLength="45" lengthAdjust="spacingAndGlyphs">band</text>
<text x="127.6" y="172.8" font-size="18.6" fill="#111" font-family="Liberation Serif, serif" textLength="9.3" lengthAdjust="spacingAndGlyphs">1</text>
<text x="146.6" y="172.8" font-size="18.6" fill="#111" font-family="Liberation Serif, serif" textLength="32.8" lengthAdjust="spacingAndGlyphs">keV</text>
<text x="539.6" y="180.8" font-size="18.6" fill="#111" font-family="Liberation Serif, serif" textLength="9.3" lengthAdjust="spacingAndGlyphs">1</text>
<text x="558.6" y="180.8" font-size="18.6" fill="#111" font-family="Liberation Serif, serif" textLength="32.8" lengthAdjust="spacingAndGlyphs">keV</text>
<text x="442" y="46.2" font-size="22" fill="#111" font-family="Liberation Serif, serif" textLength="7.3" lengthAdjust="spacingAndGlyphs">(</text>
<text x="450.6" y="46.7" font-size="19.6" fill="#111" font-family="Liberation Serif, serif" textLength="10.9" lengthAdjust="spacingAndGlyphs">a</text>
<text x="463.1" y="46.2" font-size="22" fill="#111" font-family="Liberation Serif, serif" textLength="7.3" lengthAdjust="spacingAndGlyphs">)</text>
<text x="854.2" y="46.2" font-size="22" fill="#111" font-family="Liberation Serif, serif" textLength="7.3" lengthAdjust="spacingAndGlyphs">(</text>
<text x="862.8" y="46.6" font-size="20.6" fill="#111" font-family="Liberation Serif, serif" textLength="12.2" lengthAdjust="spacingAndGlyphs">b</text>
<text x="876.2" y="46.2" font-size="22" fill="#111" font-family="Liberation Serif, serif" textLength="7.3" lengthAdjust="spacingAndGlyphs">)</text>
</g>
</svg>
</body></html>
